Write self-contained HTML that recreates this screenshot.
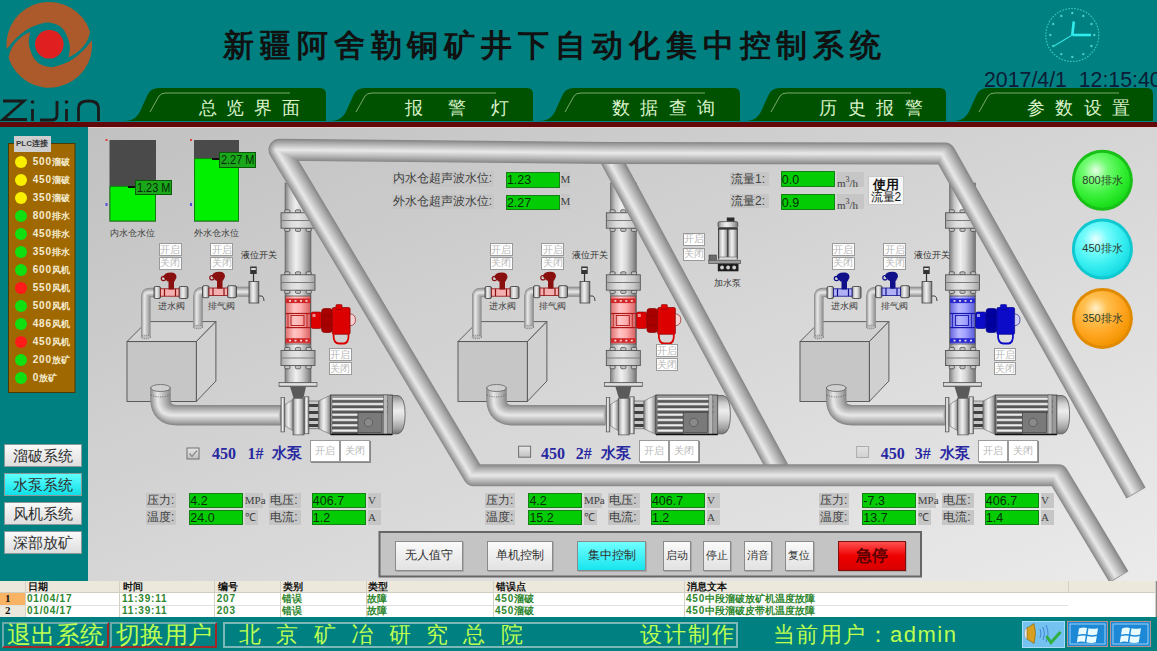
<!DOCTYPE html><html><head><meta charset='utf-8'><style>
*{margin:0;padding:0;box-sizing:border-box}
html,body{width:1157px;height:651px;overflow:hidden;background:#008080;font-family:"Liberation Sans",sans-serif}
.a{position:absolute}
.t{position:absolute;white-space:nowrap;line-height:1}
svg{position:absolute;left:0;top:0}
.lbl{position:absolute;background:#c6c6c6;color:#404040;font-size:12px;line-height:15px;white-space:nowrap;padding-left:1px}
.grn{position:absolute;background:#04cc04;border:1px solid #168016;color:#062e06;font-size:12.5px;line-height:14px;white-space:nowrap;padding-left:0;overflow:hidden}
.unit{position:absolute;background:#c6c6c6;color:#404040;font-size:11px;line-height:15px;font-family:"Liberation Serif",serif;white-space:nowrap}
.wb{position:absolute;background:#fff;border:1px solid #9a9a9a;color:#b8b8b8;font-size:10px;text-align:center;white-space:nowrap;overflow:hidden}
.pb{position:absolute;border:1px solid #8a8a8a;background:linear-gradient(#fafafa,#e2e2e2);color:#303030;font-size:12px;text-align:center;white-space:nowrap;box-shadow:1px 1px 0 #a8a8a8}
</style></head><body>
<div class='a' style='left:0;top:121.5px;width:1157px;height:5px;background:#620808'></div>
<div class='a' style='left:0;top:126.5px;width:1157px;height:454px;background:linear-gradient(157.6deg,#bfbfbf,#ebebeb)'></div><div class='a' style='left:0;top:126.5px;width:1157px;height:1px;background:#e4cccc'></div>
<div class='a' style='left:0;top:126.5px;width:88px;height:454px;background:#008080'></div>
<svg width='1157' height='126' viewBox='0 0 1157 126'><path d='M6.7,49.3 A42.8 42.8 0 0 1 90.0,31.6 C88.5,43 80,52.5 68.6,57.5 C68.8,55.2 70.5,48.8 69.5,44.0 C68.5,39.2 65.9,32.1 62.5,28.5 C59.1,24.9 53.5,23.0 49.0,22.5 C44.5,22.0 39.8,23.9 35.5,25.5 C31.2,27.1 27.2,29.4 23.5,32.0 C19.8,34.6 16.3,38.1 13.5,41.0 C10.7,43.9 7.9,47.9 6.7,49.3 Z' fill='#ac5a2c'/><path d='M91.9,40.3 A42.8 42.8 0 0 1 8.6,58.0 C10.1,46.6 18.6,37.1 30.0,32.1 C29.8,34.3 28.1,40.8 29.1,45.6 C30.1,50.4 32.7,57.5 36.1,61.1 C39.5,64.7 45.1,66.6 49.6,67.1 C54.1,67.6 58.8,65.7 63.1,64.1 C67.3,62.5 71.4,60.2 75.1,57.6 C78.8,55.0 82.3,51.5 85.1,48.6 C87.9,45.7 90.7,41.7 91.9,40.3 Z' fill='#ac5a2c'/><circle cx='49.3' cy='44.3' r='14.3' fill='#e02020'/><g stroke='#1a1a1a' stroke-width='2.8' fill='none' stroke-linecap='butt'><path d='M3,101 H24 L3,119.5 H27'/><path d='M32.5,109 V121'/><circle cx='32.5' cy='102' r='1.8' fill='#1a1a1a' stroke='none'/><path d='M57,101 V115 Q57,120 52,120 H40'/><path d='M66.5,109 V121'/><circle cx='66.5' cy='102' r='1.8' fill='#1a1a1a' stroke='none'/><path d='M78.5,121 V108 Q78.5,101 88.5,101 Q98.5,101 98.5,108 V121'/></g><path d='M124,121 C135,121 139,115 142,107 L148,94 Q151,88 159,88 H320 Q326,88 326,94 V121 Z' fill='#005200'/><path d='M150,112 L159,96 Q161,93 166,93 H290' stroke='#9abf8a' stroke-width='1' fill='none' opacity='0.8'/><path d='M330,121 C341,121 345,115 348,107 L354,94 Q357,88 365,88 H527 Q533,88 533,94 V121 Z' fill='#005200'/><path d='M356,112 L365,96 Q367,93 372,93 H496' stroke='#9abf8a' stroke-width='1' fill='none' opacity='0.8'/><path d='M539,121 C550,121 554,115 557,107 L563,94 Q566,88 574,88 H734 Q740,88 740,94 V121 Z' fill='#005200'/><path d='M565,112 L574,96 Q576,93 581,93 H705' stroke='#9abf8a' stroke-width='1' fill='none' opacity='0.8'/><path d='M745,121 C756,121 760,115 763,107 L769,94 Q772,88 780,88 H940 Q946,88 946,94 V121 Z' fill='#005200'/><path d='M771,112 L780,96 Q782,93 787,93 H911' stroke='#9abf8a' stroke-width='1' fill='none' opacity='0.8'/><path d='M953,121 C964,121 968,115 971,107 L977,94 Q980,88 988,88 H1147 Q1153,88 1153,94 V121 Z' fill='#005200'/><path d='M979,112 L988,96 Q990,93 995,93 H1119' stroke='#9abf8a' stroke-width='1' fill='none' opacity='0.8'/><circle cx='1072.3' cy='35' r='26.5' fill='none' stroke='#40d8d8' stroke-width='1.1' stroke-dasharray='1.6 1.4' opacity='0.85'/><circle cx='1072.3' cy='13.0' r='1.2' fill='#50dede' opacity='0.85'/><circle cx='1083.3' cy='15.9' r='1.2' fill='#50dede' opacity='0.85'/><circle cx='1091.4' cy='24.0' r='1.2' fill='#50dede' opacity='0.85'/><circle cx='1094.3' cy='35.0' r='1.2' fill='#50dede' opacity='0.85'/><circle cx='1091.4' cy='46.0' r='1.2' fill='#50dede' opacity='0.85'/><circle cx='1083.3' cy='54.1' r='1.2' fill='#50dede' opacity='0.85'/><circle cx='1072.3' cy='57.0' r='1.2' fill='#50dede' opacity='0.85'/><circle cx='1061.3' cy='54.1' r='1.2' fill='#50dede' opacity='0.85'/><circle cx='1053.2' cy='46.0' r='1.2' fill='#50dede' opacity='0.85'/><circle cx='1050.3' cy='35.0' r='1.2' fill='#50dede' opacity='0.85'/><circle cx='1053.2' cy='24.0' r='1.2' fill='#50dede' opacity='0.85'/><circle cx='1061.3' cy='15.9' r='1.2' fill='#50dede' opacity='0.85'/><line x1='1072.3' y1='35' x2='1073.8' y2='21.5' stroke='#30ecec' stroke-width='2.6'/><line x1='1072.3' y1='35' x2='1091' y2='35' stroke='#30ecec' stroke-width='2.6'/><line x1='1072.3' y1='35' x2='1054' y2='46' stroke='#30dede' stroke-width='1.2'/></svg>
<div class='t' style='left:223px;top:30px;font-family:"Liberation Serif",serif;font-weight:bold;font-size:31px;letter-spacing:5.9px;color:#111'>新疆阿舍勒铜矿井下自动化集中控制系统</div>
<div class='t' style='left:984px;top:70.4px;font-size:21.3px;color:#0c1c36'>2017/4/1&nbsp; 12:15:40</div>
<div class='t' style='left:198.5px;top:98.5px;font-size:18px;letter-spacing:9.9px;color:#dcf2cc'>总览界面</div>
<div class='t' style='left:404.5px;top:98.5px;font-size:18px;letter-spacing:25px;color:#dcf2cc'>报警灯</div>
<div class='t' style='left:612px;top:98.5px;font-size:18px;letter-spacing:10.4px;color:#dcf2cc'>数据查询</div>
<div class='t' style='left:819px;top:98.5px;font-size:18px;letter-spacing:10.7px;color:#dcf2cc'>历史报警</div>
<div class='t' style='left:1026.5px;top:98.5px;font-size:18px;letter-spacing:10.6px;color:#dcf2cc'>参数设置</div>
<svg width='1157' height='651' viewBox='0 0 1157 651'><defs>
<linearGradient id='gV' x1='0' x2='1' y1='0' y2='0'>
<stop offset='0' stop-color='#7c7c7c'/><stop offset='.18' stop-color='#c4c4c4'/><stop offset='.42' stop-color='#f0f0f0'/><stop offset='.62' stop-color='#d6d6d6'/><stop offset='.86' stop-color='#9c9c9c'/><stop offset='1' stop-color='#707070'/></linearGradient>
<linearGradient id='gH' x1='0' x2='0' y1='0' y2='1'>
<stop offset='0' stop-color='#8a8a8a'/><stop offset='.2' stop-color='#cdcdcd'/><stop offset='.4' stop-color='#ededed'/><stop offset='.62' stop-color='#d2d2d2'/><stop offset='.86' stop-color='#a0a0a0'/><stop offset='1' stop-color='#747474'/></linearGradient>
<linearGradient id='gP' x1='0' x2='1'><stop offset='0' stop-color='#e07070'/><stop offset='.35' stop-color='#ffc4c4'/><stop offset='.6' stop-color='#ffb0b0'/><stop offset='1' stop-color='#d86060'/></linearGradient>
<linearGradient id='gB' x1='0' x2='1'><stop offset='0' stop-color='#6464e0'/><stop offset='.35' stop-color='#b8b8ff'/><stop offset='.6' stop-color='#a4a4ff'/><stop offset='1' stop-color='#5a5ad8'/></linearGradient>
<linearGradient id='gF' x1='0' x2='1'><stop offset='0' stop-color='#a8a8a8'/><stop offset='.3' stop-color='#dcdcdc'/><stop offset='.5' stop-color='#e4e4e4'/><stop offset='.8' stop-color='#c8c8c8'/><stop offset='1' stop-color='#a0a0a0'/></linearGradient>
<linearGradient id='gTB' x1='0' x2='0' y1='0' y2='1'><stop offset='0' stop-color='#e8e8e8'/><stop offset='1' stop-color='#c0c0c0'/></linearGradient>
<radialGradient id='gG' cx='.38' cy='.32' r='.7'><stop offset='0' stop-color='#e4ffe4'/><stop offset='.3' stop-color='#74fc74'/><stop offset='.7' stop-color='#34ee34'/><stop offset='1' stop-color='#18dc18'/></radialGradient>
<radialGradient id='gC' cx='.38' cy='.32' r='.7'><stop offset='0' stop-color='#e8ffff'/><stop offset='.3' stop-color='#78fcfc'/><stop offset='.7' stop-color='#38eef0'/><stop offset='1' stop-color='#18dce4'/></radialGradient>
<radialGradient id='gO' cx='.38' cy='.32' r='.7'><stop offset='0' stop-color='#fff0c8'/><stop offset='.3' stop-color='#ffc050'/><stop offset='.7' stop-color='#ffa420'/><stop offset='1' stop-color='#f29400'/></radialGradient>
</defs><rect x='8.5' y='143.5' width='66.5' height='249' fill='#a06800' stroke='#4a3a08' stroke-width='1'/><circle cx='21' cy='162' r='6' fill='#f8f000'/><circle cx='21' cy='180' r='6' fill='#f8f000'/><circle cx='21' cy='198' r='6' fill='#f8f000'/><circle cx='21' cy='216' r='6' fill='#10e010'/><circle cx='21' cy='234' r='6' fill='#10e010'/><circle cx='21' cy='252' r='6' fill='#10e010'/><circle cx='21' cy='270' r='6' fill='#10e010'/><circle cx='21' cy='288' r='6' fill='#ff1a1a'/><circle cx='21' cy='306' r='6' fill='#10e010'/><circle cx='21' cy='324' r='6' fill='#10e010'/><circle cx='21' cy='342' r='6' fill='#ff1a1a'/><circle cx='21' cy='360' r='6' fill='#10e010'/><circle cx='21' cy='378' r='6' fill='#10e010'/><rect x='109.5' y='140' width='46.5' height='81.5' fill='#4a4a4a'/><rect x='110.0' y='186.3' width='45.5' height='34.69999999999999' fill='#00f000' stroke='#108010' stroke-width='1'/><rect x='194' y='140' width='45' height='81.5' fill='#4a4a4a'/><rect x='194.5' y='158.6' width='44' height='62.400000000000006' fill='#00f000' stroke='#108010' stroke-width='1'/><rect x='105.5' y='139' width='2' height='2' fill='#e04040'/><rect x='105.5' y='203' width='2' height='3' fill='#5050d0'/><rect x='190' y='139' width='2' height='2' fill='#e04040'/><rect x='190' y='203' width='2' height='3' fill='#5050d0'/><line x1='128' y1='187' x2='136' y2='187' stroke='#101010' stroke-width='2'/><line x1='212' y1='159' x2='220' y2='159' stroke='#101010' stroke-width='2'/><polygon points='127,341.6 147,321.6 215.9,321.6 196.3,341.6' fill='#d2d2d2' stroke='#505050' stroke-width='0.9'/><polygon points='196.3,341.6 215.9,321.6 215.9,381 196.3,401.5' fill='#d0d0d0' stroke='#505050' stroke-width='0.9'/><rect x='127' y='341.6' width='69.30000000000001' height='59.89999999999998' fill='#c6c6c6' stroke='#505050' stroke-width='0.9'/><path d='M145.8,338 V296 Q145.8,292.5 150,292.5 H156' stroke='rgb(136,136,136)' stroke-width='9.50' fill='none' stroke-linejoin='round' stroke-linecap='butt' /><path d='M145.8,338 V296 Q145.8,292.5 150,292.5 H156' stroke='rgb(146,146,146)' stroke-width='8.71' fill='none' stroke-linejoin='round' stroke-linecap='butt' transform='translate(-0.12,0)' /><path d='M145.8,338 V296 Q145.8,292.5 150,292.5 H156' stroke='rgb(156,156,156)' stroke-width='7.91' fill='none' stroke-linejoin='round' stroke-linecap='butt' transform='translate(-0.24,0)' /><path d='M145.8,338 V296 Q145.8,292.5 150,292.5 H156' stroke='rgb(165,165,165)' stroke-width='7.12' fill='none' stroke-linejoin='round' stroke-linecap='butt' transform='translate(-0.36,0)' /><path d='M145.8,338 V296 Q145.8,292.5 150,292.5 H156' stroke='rgb(173,173,173)' stroke-width='6.32' fill='none' stroke-linejoin='round' stroke-linecap='butt' transform='translate(-0.48,0)' /><path d='M145.8,338 V296 Q145.8,292.5 150,292.5 H156' stroke='rgb(182,182,182)' stroke-width='5.53' fill='none' stroke-linejoin='round' stroke-linecap='butt' transform='translate(-0.60,0)' /><path d='M145.8,338 V296 Q145.8,292.5 150,292.5 H156' stroke='rgb(190,190,190)' stroke-width='4.73' fill='none' stroke-linejoin='round' stroke-linecap='butt' transform='translate(-0.73,0)' /><path d='M145.8,338 V296 Q145.8,292.5 150,292.5 H156' stroke='rgb(198,198,198)' stroke-width='3.94' fill='none' stroke-linejoin='round' stroke-linecap='butt' transform='translate(-0.85,0)' /><path d='M145.8,338 V296 Q145.8,292.5 150,292.5 H156' stroke='rgb(206,206,206)' stroke-width='3.14' fill='none' stroke-linejoin='round' stroke-linecap='butt' transform='translate(-0.97,0)' /><path d='M145.8,338 V296 Q145.8,292.5 150,292.5 H156' stroke='rgb(214,214,214)' stroke-width='2.35' fill='none' stroke-linejoin='round' stroke-linecap='butt' transform='translate(-1.09,0)' /><path d='M145.8,338 V296 Q145.8,292.5 150,292.5 H156' stroke='rgb(222,222,222)' stroke-width='1.55' fill='none' stroke-linejoin='round' stroke-linecap='butt' transform='translate(-1.21,0)' /><path d='M145.8,338 V296 Q145.8,292.5 150,292.5 H156' stroke='rgb(230,230,230)' stroke-width='0.76' fill='none' stroke-linejoin='round' stroke-linecap='butt' transform='translate(-1.33,0)' /><path d='M198,328 V296 Q198,291.7 202,291.7 H206' stroke='rgb(136,136,136)' stroke-width='9.50' fill='none' stroke-linejoin='round' stroke-linecap='butt' /><path d='M198,328 V296 Q198,291.7 202,291.7 H206' stroke='rgb(146,146,146)' stroke-width='8.71' fill='none' stroke-linejoin='round' stroke-linecap='butt' transform='translate(-0.12,0)' /><path d='M198,328 V296 Q198,291.7 202,291.7 H206' stroke='rgb(156,156,156)' stroke-width='7.91' fill='none' stroke-linejoin='round' stroke-linecap='butt' transform='translate(-0.24,0)' /><path d='M198,328 V296 Q198,291.7 202,291.7 H206' stroke='rgb(165,165,165)' stroke-width='7.12' fill='none' stroke-linejoin='round' stroke-linecap='butt' transform='translate(-0.36,0)' /><path d='M198,328 V296 Q198,291.7 202,291.7 H206' stroke='rgb(173,173,173)' stroke-width='6.32' fill='none' stroke-linejoin='round' stroke-linecap='butt' transform='translate(-0.48,0)' /><path d='M198,328 V296 Q198,291.7 202,291.7 H206' stroke='rgb(182,182,182)' stroke-width='5.53' fill='none' stroke-linejoin='round' stroke-linecap='butt' transform='translate(-0.60,0)' /><path d='M198,328 V296 Q198,291.7 202,291.7 H206' stroke='rgb(190,190,190)' stroke-width='4.73' fill='none' stroke-linejoin='round' stroke-linecap='butt' transform='translate(-0.73,0)' /><path d='M198,328 V296 Q198,291.7 202,291.7 H206' stroke='rgb(198,198,198)' stroke-width='3.94' fill='none' stroke-linejoin='round' stroke-linecap='butt' transform='translate(-0.85,0)' /><path d='M198,328 V296 Q198,291.7 202,291.7 H206' stroke='rgb(206,206,206)' stroke-width='3.14' fill='none' stroke-linejoin='round' stroke-linecap='butt' transform='translate(-0.97,0)' /><path d='M198,328 V296 Q198,291.7 202,291.7 H206' stroke='rgb(214,214,214)' stroke-width='2.35' fill='none' stroke-linejoin='round' stroke-linecap='butt' transform='translate(-1.09,0)' /><path d='M198,328 V296 Q198,291.7 202,291.7 H206' stroke='rgb(222,222,222)' stroke-width='1.55' fill='none' stroke-linejoin='round' stroke-linecap='butt' transform='translate(-1.21,0)' /><path d='M198,328 V296 Q198,291.7 202,291.7 H206' stroke='rgb(230,230,230)' stroke-width='0.76' fill='none' stroke-linejoin='round' stroke-linecap='butt' transform='translate(-1.33,0)' /><path d='M234,291.7 H251' stroke='rgb(136,136,136)' stroke-width='10.00' fill='none' stroke-linejoin='round' stroke-linecap='butt' /><path d='M234,291.7 H251' stroke='rgb(146,146,146)' stroke-width='9.16' fill='none' stroke-linejoin='round' stroke-linecap='butt' transform='translate(-0.13,0)' /><path d='M234,291.7 H251' stroke='rgb(156,156,156)' stroke-width='8.33' fill='none' stroke-linejoin='round' stroke-linecap='butt' transform='translate(-0.25,0)' /><path d='M234,291.7 H251' stroke='rgb(165,165,165)' stroke-width='7.49' fill='none' stroke-linejoin='round' stroke-linecap='butt' transform='translate(-0.38,0)' /><path d='M234,291.7 H251' stroke='rgb(173,173,173)' stroke-width='6.65' fill='none' stroke-linejoin='round' stroke-linecap='butt' transform='translate(-0.51,0)' /><path d='M234,291.7 H251' stroke='rgb(182,182,182)' stroke-width='5.82' fill='none' stroke-linejoin='round' stroke-linecap='butt' transform='translate(-0.64,0)' /><path d='M234,291.7 H251' stroke='rgb(190,190,190)' stroke-width='4.98' fill='none' stroke-linejoin='round' stroke-linecap='butt' transform='translate(-0.76,0)' /><path d='M234,291.7 H251' stroke='rgb(198,198,198)' stroke-width='4.15' fill='none' stroke-linejoin='round' stroke-linecap='butt' transform='translate(-0.89,0)' /><path d='M234,291.7 H251' stroke='rgb(206,206,206)' stroke-width='3.31' fill='none' stroke-linejoin='round' stroke-linecap='butt' transform='translate(-1.02,0)' /><path d='M234,291.7 H251' stroke='rgb(214,214,214)' stroke-width='2.47' fill='none' stroke-linejoin='round' stroke-linecap='butt' transform='translate(-1.15,0)' /><path d='M234,291.7 H251' stroke='rgb(222,222,222)' stroke-width='1.64' fill='none' stroke-linejoin='round' stroke-linecap='butt' transform='translate(-1.27,0)' /><path d='M234,291.7 H251' stroke='rgb(230,230,230)' stroke-width='0.80' fill='none' stroke-linejoin='round' stroke-linecap='butt' transform='translate(-1.40,0)' /><ellipse cx='145.8' cy='337' rx='4.7' ry='1.8' fill='#bbb' stroke='#555' stroke-width='0.6' stroke-dasharray='1 1'/><ellipse cx='198' cy='327' rx='4.7' ry='1.8' fill='#bbb' stroke='#555' stroke-width='0.6' stroke-dasharray='1 1'/><rect x='154.0' y='286.5' width='6.5' height='12' rx='1.5' fill='url(#gV)' stroke='#333' stroke-width='0.8'/><rect x='179.0' y='286.5' width='9' height='12' rx='1.5' fill='url(#gV)' stroke='#333' stroke-width='0.8'/><rect x='160.5' y='288.8' width='18.5' height='7.4' fill='#f4b0b0' stroke='#8a1010' stroke-width='0.8'/><line x1='164.5' y1='288.8' x2='164.5' y2='296.2' stroke='#8a1010' stroke-width='1.2'/><line x1='175.5' y1='288.8' x2='175.5' y2='296.2' stroke='#8a1010' stroke-width='1.2'/><rect x='168.5' y='280.5' width='5.5' height='9' fill='#8a1010'/><path d='M163.5,277.5 Q163.5,272.5 171.0,272.5 Q176.5,272.5 176.5,277.5 L174.5,281.5 H167.5 Z' fill='#8a1010'/><circle cx='163.5' cy='278.5' r='2.2' fill='none' stroke='#8a1010' stroke-width='1.2'/><rect x='202.5' y='285.7' width='6.5' height='12' rx='1.5' fill='url(#gV)' stroke='#333' stroke-width='0.8'/><rect x='227.5' y='285.7' width='9' height='12' rx='1.5' fill='url(#gV)' stroke='#333' stroke-width='0.8'/><rect x='209' y='288.0' width='18.5' height='7.4' fill='#f4b0b0' stroke='#8a1010' stroke-width='0.8'/><line x1='213' y1='288.0' x2='213' y2='295.4' stroke='#8a1010' stroke-width='1.2'/><line x1='224' y1='288.0' x2='224' y2='295.4' stroke='#8a1010' stroke-width='1.2'/><rect x='217' y='279.7' width='5.5' height='9' fill='#8a1010'/><path d='M212,276.7 Q212,271.7 219.5,271.7 Q225,271.7 225,276.7 L223,280.7 H216 Z' fill='#8a1010'/><circle cx='212' cy='277.7' r='2.2' fill='none' stroke='#8a1010' stroke-width='1.2'/><rect x='249' y='281.5' width='9.8' height='21.5' fill='url(#gV)' stroke='#444' stroke-width='0.8'/><path d='M258.8,296 H262 Q264,297 264,301' stroke='#444' stroke-width='1' fill='none'/><line x1='253.5' y1='274' x2='253.5' y2='281.5' stroke='#333' stroke-width='1.2'/><rect x='250.2' y='266.5' width='6.5' height='7.5' fill='#333'/><rect x='251.2' y='268' width='4.5' height='2' fill='#ddd'/><path d='M160.5,387 V399 Q160.5,415.2 177,415.2 H281' stroke='rgb(136,136,136)' stroke-width='20.50' fill='none' stroke-linejoin='round' stroke-linecap='butt' /><path d='M160.5,387 V399 Q160.5,415.2 177,415.2 H281' stroke='rgb(146,146,146)' stroke-width='18.79' fill='none' stroke-linejoin='round' stroke-linecap='butt' transform='translate(-0.26,0)' /><path d='M160.5,387 V399 Q160.5,415.2 177,415.2 H281' stroke='rgb(156,156,156)' stroke-width='17.07' fill='none' stroke-linejoin='round' stroke-linecap='butt' transform='translate(-0.52,0)' /><path d='M160.5,387 V399 Q160.5,415.2 177,415.2 H281' stroke='rgb(165,165,165)' stroke-width='15.36' fill='none' stroke-linejoin='round' stroke-linecap='butt' transform='translate(-0.78,0)' /><path d='M160.5,387 V399 Q160.5,415.2 177,415.2 H281' stroke='rgb(173,173,173)' stroke-width='13.64' fill='none' stroke-linejoin='round' stroke-linecap='butt' transform='translate(-1.04,0)' /><path d='M160.5,387 V399 Q160.5,415.2 177,415.2 H281' stroke='rgb(182,182,182)' stroke-width='11.93' fill='none' stroke-linejoin='round' stroke-linecap='butt' transform='translate(-1.30,0)' /><path d='M160.5,387 V399 Q160.5,415.2 177,415.2 H281' stroke='rgb(190,190,190)' stroke-width='10.21' fill='none' stroke-linejoin='round' stroke-linecap='butt' transform='translate(-1.57,0)' /><path d='M160.5,387 V399 Q160.5,415.2 177,415.2 H281' stroke='rgb(198,198,198)' stroke-width='8.50' fill='none' stroke-linejoin='round' stroke-linecap='butt' transform='translate(-1.83,0)' /><path d='M160.5,387 V399 Q160.5,415.2 177,415.2 H281' stroke='rgb(206,206,206)' stroke-width='6.78' fill='none' stroke-linejoin='round' stroke-linecap='butt' transform='translate(-2.09,0)' /><path d='M160.5,387 V399 Q160.5,415.2 177,415.2 H281' stroke='rgb(214,214,214)' stroke-width='5.07' fill='none' stroke-linejoin='round' stroke-linecap='butt' transform='translate(-2.35,0)' /><path d='M160.5,387 V399 Q160.5,415.2 177,415.2 H281' stroke='rgb(222,222,222)' stroke-width='3.35' fill='none' stroke-linejoin='round' stroke-linecap='butt' transform='translate(-2.61,0)' /><path d='M160.5,387 V399 Q160.5,415.2 177,415.2 H281' stroke='rgb(230,230,230)' stroke-width='1.64' fill='none' stroke-linejoin='round' stroke-linecap='butt' transform='translate(-2.87,0)' /><ellipse cx='160.5' cy='388' rx='9.8' ry='3.5' fill='#d0d0d0' stroke='#555' stroke-width='0.7'/><path d='M150.7,395 Q160.5,399 170.3,395' stroke='#555' stroke-width='0.7' stroke-dasharray='1.2 1.2' fill='none'/><polygon points='458,341.6 478,321.6 546.9,321.6 527.3,341.6' fill='#d2d2d2' stroke='#505050' stroke-width='0.9'/><polygon points='527.3,341.6 546.9,321.6 546.9,381 527.3,401.5' fill='#d0d0d0' stroke='#505050' stroke-width='0.9'/><rect x='458' y='341.6' width='69.29999999999995' height='59.89999999999998' fill='#c6c6c6' stroke='#505050' stroke-width='0.9'/><path d='M476.8,338 V296 Q476.8,292.5 481,292.5 H487' stroke='rgb(136,136,136)' stroke-width='9.50' fill='none' stroke-linejoin='round' stroke-linecap='butt' /><path d='M476.8,338 V296 Q476.8,292.5 481,292.5 H487' stroke='rgb(146,146,146)' stroke-width='8.71' fill='none' stroke-linejoin='round' stroke-linecap='butt' transform='translate(-0.12,0)' /><path d='M476.8,338 V296 Q476.8,292.5 481,292.5 H487' stroke='rgb(156,156,156)' stroke-width='7.91' fill='none' stroke-linejoin='round' stroke-linecap='butt' transform='translate(-0.24,0)' /><path d='M476.8,338 V296 Q476.8,292.5 481,292.5 H487' stroke='rgb(165,165,165)' stroke-width='7.12' fill='none' stroke-linejoin='round' stroke-linecap='butt' transform='translate(-0.36,0)' /><path d='M476.8,338 V296 Q476.8,292.5 481,292.5 H487' stroke='rgb(173,173,173)' stroke-width='6.32' fill='none' stroke-linejoin='round' stroke-linecap='butt' transform='translate(-0.48,0)' /><path d='M476.8,338 V296 Q476.8,292.5 481,292.5 H487' stroke='rgb(182,182,182)' stroke-width='5.53' fill='none' stroke-linejoin='round' stroke-linecap='butt' transform='translate(-0.60,0)' /><path d='M476.8,338 V296 Q476.8,292.5 481,292.5 H487' stroke='rgb(190,190,190)' stroke-width='4.73' fill='none' stroke-linejoin='round' stroke-linecap='butt' transform='translate(-0.73,0)' /><path d='M476.8,338 V296 Q476.8,292.5 481,292.5 H487' stroke='rgb(198,198,198)' stroke-width='3.94' fill='none' stroke-linejoin='round' stroke-linecap='butt' transform='translate(-0.85,0)' /><path d='M476.8,338 V296 Q476.8,292.5 481,292.5 H487' stroke='rgb(206,206,206)' stroke-width='3.14' fill='none' stroke-linejoin='round' stroke-linecap='butt' transform='translate(-0.97,0)' /><path d='M476.8,338 V296 Q476.8,292.5 481,292.5 H487' stroke='rgb(214,214,214)' stroke-width='2.35' fill='none' stroke-linejoin='round' stroke-linecap='butt' transform='translate(-1.09,0)' /><path d='M476.8,338 V296 Q476.8,292.5 481,292.5 H487' stroke='rgb(222,222,222)' stroke-width='1.55' fill='none' stroke-linejoin='round' stroke-linecap='butt' transform='translate(-1.21,0)' /><path d='M476.8,338 V296 Q476.8,292.5 481,292.5 H487' stroke='rgb(230,230,230)' stroke-width='0.76' fill='none' stroke-linejoin='round' stroke-linecap='butt' transform='translate(-1.33,0)' /><path d='M529,328 V296 Q529,291.7 533,291.7 H537' stroke='rgb(136,136,136)' stroke-width='9.50' fill='none' stroke-linejoin='round' stroke-linecap='butt' /><path d='M529,328 V296 Q529,291.7 533,291.7 H537' stroke='rgb(146,146,146)' stroke-width='8.71' fill='none' stroke-linejoin='round' stroke-linecap='butt' transform='translate(-0.12,0)' /><path d='M529,328 V296 Q529,291.7 533,291.7 H537' stroke='rgb(156,156,156)' stroke-width='7.91' fill='none' stroke-linejoin='round' stroke-linecap='butt' transform='translate(-0.24,0)' /><path d='M529,328 V296 Q529,291.7 533,291.7 H537' stroke='rgb(165,165,165)' stroke-width='7.12' fill='none' stroke-linejoin='round' stroke-linecap='butt' transform='translate(-0.36,0)' /><path d='M529,328 V296 Q529,291.7 533,291.7 H537' stroke='rgb(173,173,173)' stroke-width='6.32' fill='none' stroke-linejoin='round' stroke-linecap='butt' transform='translate(-0.48,0)' /><path d='M529,328 V296 Q529,291.7 533,291.7 H537' stroke='rgb(182,182,182)' stroke-width='5.53' fill='none' stroke-linejoin='round' stroke-linecap='butt' transform='translate(-0.60,0)' /><path d='M529,328 V296 Q529,291.7 533,291.7 H537' stroke='rgb(190,190,190)' stroke-width='4.73' fill='none' stroke-linejoin='round' stroke-linecap='butt' transform='translate(-0.73,0)' /><path d='M529,328 V296 Q529,291.7 533,291.7 H537' stroke='rgb(198,198,198)' stroke-width='3.94' fill='none' stroke-linejoin='round' stroke-linecap='butt' transform='translate(-0.85,0)' /><path d='M529,328 V296 Q529,291.7 533,291.7 H537' stroke='rgb(206,206,206)' stroke-width='3.14' fill='none' stroke-linejoin='round' stroke-linecap='butt' transform='translate(-0.97,0)' /><path d='M529,328 V296 Q529,291.7 533,291.7 H537' stroke='rgb(214,214,214)' stroke-width='2.35' fill='none' stroke-linejoin='round' stroke-linecap='butt' transform='translate(-1.09,0)' /><path d='M529,328 V296 Q529,291.7 533,291.7 H537' stroke='rgb(222,222,222)' stroke-width='1.55' fill='none' stroke-linejoin='round' stroke-linecap='butt' transform='translate(-1.21,0)' /><path d='M529,328 V296 Q529,291.7 533,291.7 H537' stroke='rgb(230,230,230)' stroke-width='0.76' fill='none' stroke-linejoin='round' stroke-linecap='butt' transform='translate(-1.33,0)' /><path d='M565,291.7 H582' stroke='rgb(136,136,136)' stroke-width='10.00' fill='none' stroke-linejoin='round' stroke-linecap='butt' /><path d='M565,291.7 H582' stroke='rgb(146,146,146)' stroke-width='9.16' fill='none' stroke-linejoin='round' stroke-linecap='butt' transform='translate(-0.13,0)' /><path d='M565,291.7 H582' stroke='rgb(156,156,156)' stroke-width='8.33' fill='none' stroke-linejoin='round' stroke-linecap='butt' transform='translate(-0.25,0)' /><path d='M565,291.7 H582' stroke='rgb(165,165,165)' stroke-width='7.49' fill='none' stroke-linejoin='round' stroke-linecap='butt' transform='translate(-0.38,0)' /><path d='M565,291.7 H582' stroke='rgb(173,173,173)' stroke-width='6.65' fill='none' stroke-linejoin='round' stroke-linecap='butt' transform='translate(-0.51,0)' /><path d='M565,291.7 H582' stroke='rgb(182,182,182)' stroke-width='5.82' fill='none' stroke-linejoin='round' stroke-linecap='butt' transform='translate(-0.64,0)' /><path d='M565,291.7 H582' stroke='rgb(190,190,190)' stroke-width='4.98' fill='none' stroke-linejoin='round' stroke-linecap='butt' transform='translate(-0.76,0)' /><path d='M565,291.7 H582' stroke='rgb(198,198,198)' stroke-width='4.15' fill='none' stroke-linejoin='round' stroke-linecap='butt' transform='translate(-0.89,0)' /><path d='M565,291.7 H582' stroke='rgb(206,206,206)' stroke-width='3.31' fill='none' stroke-linejoin='round' stroke-linecap='butt' transform='translate(-1.02,0)' /><path d='M565,291.7 H582' stroke='rgb(214,214,214)' stroke-width='2.47' fill='none' stroke-linejoin='round' stroke-linecap='butt' transform='translate(-1.15,0)' /><path d='M565,291.7 H582' stroke='rgb(222,222,222)' stroke-width='1.64' fill='none' stroke-linejoin='round' stroke-linecap='butt' transform='translate(-1.27,0)' /><path d='M565,291.7 H582' stroke='rgb(230,230,230)' stroke-width='0.80' fill='none' stroke-linejoin='round' stroke-linecap='butt' transform='translate(-1.40,0)' /><ellipse cx='476.8' cy='337' rx='4.7' ry='1.8' fill='#bbb' stroke='#555' stroke-width='0.6' stroke-dasharray='1 1'/><ellipse cx='529' cy='327' rx='4.7' ry='1.8' fill='#bbb' stroke='#555' stroke-width='0.6' stroke-dasharray='1 1'/><rect x='485.0' y='286.5' width='6.5' height='12' rx='1.5' fill='url(#gV)' stroke='#333' stroke-width='0.8'/><rect x='510.0' y='286.5' width='9' height='12' rx='1.5' fill='url(#gV)' stroke='#333' stroke-width='0.8'/><rect x='491.5' y='288.8' width='18.5' height='7.4' fill='#f4b0b0' stroke='#8a1010' stroke-width='0.8'/><line x1='495.5' y1='288.8' x2='495.5' y2='296.2' stroke='#8a1010' stroke-width='1.2'/><line x1='506.5' y1='288.8' x2='506.5' y2='296.2' stroke='#8a1010' stroke-width='1.2'/><rect x='499.5' y='280.5' width='5.5' height='9' fill='#8a1010'/><path d='M494.5,277.5 Q494.5,272.5 502.0,272.5 Q507.5,272.5 507.5,277.5 L505.5,281.5 H498.5 Z' fill='#8a1010'/><circle cx='494.5' cy='278.5' r='2.2' fill='none' stroke='#8a1010' stroke-width='1.2'/><rect x='533.5' y='285.7' width='6.5' height='12' rx='1.5' fill='url(#gV)' stroke='#333' stroke-width='0.8'/><rect x='558.5' y='285.7' width='9' height='12' rx='1.5' fill='url(#gV)' stroke='#333' stroke-width='0.8'/><rect x='540' y='288.0' width='18.5' height='7.4' fill='#f4b0b0' stroke='#8a1010' stroke-width='0.8'/><line x1='544' y1='288.0' x2='544' y2='295.4' stroke='#8a1010' stroke-width='1.2'/><line x1='555' y1='288.0' x2='555' y2='295.4' stroke='#8a1010' stroke-width='1.2'/><rect x='548' y='279.7' width='5.5' height='9' fill='#8a1010'/><path d='M543,276.7 Q543,271.7 550.5,271.7 Q556,271.7 556,276.7 L554,280.7 H547 Z' fill='#8a1010'/><circle cx='543' cy='277.7' r='2.2' fill='none' stroke='#8a1010' stroke-width='1.2'/><rect x='580' y='281.5' width='9.8' height='21.5' fill='url(#gV)' stroke='#444' stroke-width='0.8'/><path d='M589.8,296 H593 Q595,297 595,301' stroke='#444' stroke-width='1' fill='none'/><line x1='584.5' y1='274' x2='584.5' y2='281.5' stroke='#333' stroke-width='1.2'/><rect x='581.2' y='266.5' width='6.5' height='7.5' fill='#333'/><rect x='582.2' y='268' width='4.5' height='2' fill='#ddd'/><path d='M496.5,387 V399 Q496.5,415.2 513,415.2 H605.7' stroke='rgb(136,136,136)' stroke-width='20.50' fill='none' stroke-linejoin='round' stroke-linecap='butt' /><path d='M496.5,387 V399 Q496.5,415.2 513,415.2 H605.7' stroke='rgb(146,146,146)' stroke-width='18.79' fill='none' stroke-linejoin='round' stroke-linecap='butt' transform='translate(-0.26,0)' /><path d='M496.5,387 V399 Q496.5,415.2 513,415.2 H605.7' stroke='rgb(156,156,156)' stroke-width='17.07' fill='none' stroke-linejoin='round' stroke-linecap='butt' transform='translate(-0.52,0)' /><path d='M496.5,387 V399 Q496.5,415.2 513,415.2 H605.7' stroke='rgb(165,165,165)' stroke-width='15.36' fill='none' stroke-linejoin='round' stroke-linecap='butt' transform='translate(-0.78,0)' /><path d='M496.5,387 V399 Q496.5,415.2 513,415.2 H605.7' stroke='rgb(173,173,173)' stroke-width='13.64' fill='none' stroke-linejoin='round' stroke-linecap='butt' transform='translate(-1.04,0)' /><path d='M496.5,387 V399 Q496.5,415.2 513,415.2 H605.7' stroke='rgb(182,182,182)' stroke-width='11.93' fill='none' stroke-linejoin='round' stroke-linecap='butt' transform='translate(-1.30,0)' /><path d='M496.5,387 V399 Q496.5,415.2 513,415.2 H605.7' stroke='rgb(190,190,190)' stroke-width='10.21' fill='none' stroke-linejoin='round' stroke-linecap='butt' transform='translate(-1.57,0)' /><path d='M496.5,387 V399 Q496.5,415.2 513,415.2 H605.7' stroke='rgb(198,198,198)' stroke-width='8.50' fill='none' stroke-linejoin='round' stroke-linecap='butt' transform='translate(-1.83,0)' /><path d='M496.5,387 V399 Q496.5,415.2 513,415.2 H605.7' stroke='rgb(206,206,206)' stroke-width='6.78' fill='none' stroke-linejoin='round' stroke-linecap='butt' transform='translate(-2.09,0)' /><path d='M496.5,387 V399 Q496.5,415.2 513,415.2 H605.7' stroke='rgb(214,214,214)' stroke-width='5.07' fill='none' stroke-linejoin='round' stroke-linecap='butt' transform='translate(-2.35,0)' /><path d='M496.5,387 V399 Q496.5,415.2 513,415.2 H605.7' stroke='rgb(222,222,222)' stroke-width='3.35' fill='none' stroke-linejoin='round' stroke-linecap='butt' transform='translate(-2.61,0)' /><path d='M496.5,387 V399 Q496.5,415.2 513,415.2 H605.7' stroke='rgb(230,230,230)' stroke-width='1.64' fill='none' stroke-linejoin='round' stroke-linecap='butt' transform='translate(-2.87,0)' /><ellipse cx='496.5' cy='388' rx='9.8' ry='3.5' fill='#d0d0d0' stroke='#555' stroke-width='0.7'/><path d='M486.7,395 Q496.5,399 506.3,395' stroke='#555' stroke-width='0.7' stroke-dasharray='1.2 1.2' fill='none'/><polygon points='800,341.6 820,321.6 888.9,321.6 869.3,341.6' fill='#d2d2d2' stroke='#505050' stroke-width='0.9'/><polygon points='869.3,341.6 888.9,321.6 888.9,381 869.3,401.5' fill='#d0d0d0' stroke='#505050' stroke-width='0.9'/><rect x='800' y='341.6' width='69.29999999999995' height='59.89999999999998' fill='#c6c6c6' stroke='#505050' stroke-width='0.9'/><path d='M818.8,338 V296 Q818.8,292.5 823,292.5 H829' stroke='rgb(136,136,136)' stroke-width='9.50' fill='none' stroke-linejoin='round' stroke-linecap='butt' /><path d='M818.8,338 V296 Q818.8,292.5 823,292.5 H829' stroke='rgb(146,146,146)' stroke-width='8.71' fill='none' stroke-linejoin='round' stroke-linecap='butt' transform='translate(-0.12,0)' /><path d='M818.8,338 V296 Q818.8,292.5 823,292.5 H829' stroke='rgb(156,156,156)' stroke-width='7.91' fill='none' stroke-linejoin='round' stroke-linecap='butt' transform='translate(-0.24,0)' /><path d='M818.8,338 V296 Q818.8,292.5 823,292.5 H829' stroke='rgb(165,165,165)' stroke-width='7.12' fill='none' stroke-linejoin='round' stroke-linecap='butt' transform='translate(-0.36,0)' /><path d='M818.8,338 V296 Q818.8,292.5 823,292.5 H829' stroke='rgb(173,173,173)' stroke-width='6.32' fill='none' stroke-linejoin='round' stroke-linecap='butt' transform='translate(-0.48,0)' /><path d='M818.8,338 V296 Q818.8,292.5 823,292.5 H829' stroke='rgb(182,182,182)' stroke-width='5.53' fill='none' stroke-linejoin='round' stroke-linecap='butt' transform='translate(-0.60,0)' /><path d='M818.8,338 V296 Q818.8,292.5 823,292.5 H829' stroke='rgb(190,190,190)' stroke-width='4.73' fill='none' stroke-linejoin='round' stroke-linecap='butt' transform='translate(-0.73,0)' /><path d='M818.8,338 V296 Q818.8,292.5 823,292.5 H829' stroke='rgb(198,198,198)' stroke-width='3.94' fill='none' stroke-linejoin='round' stroke-linecap='butt' transform='translate(-0.85,0)' /><path d='M818.8,338 V296 Q818.8,292.5 823,292.5 H829' stroke='rgb(206,206,206)' stroke-width='3.14' fill='none' stroke-linejoin='round' stroke-linecap='butt' transform='translate(-0.97,0)' /><path d='M818.8,338 V296 Q818.8,292.5 823,292.5 H829' stroke='rgb(214,214,214)' stroke-width='2.35' fill='none' stroke-linejoin='round' stroke-linecap='butt' transform='translate(-1.09,0)' /><path d='M818.8,338 V296 Q818.8,292.5 823,292.5 H829' stroke='rgb(222,222,222)' stroke-width='1.55' fill='none' stroke-linejoin='round' stroke-linecap='butt' transform='translate(-1.21,0)' /><path d='M818.8,338 V296 Q818.8,292.5 823,292.5 H829' stroke='rgb(230,230,230)' stroke-width='0.76' fill='none' stroke-linejoin='round' stroke-linecap='butt' transform='translate(-1.33,0)' /><path d='M871,328 V296 Q871,291.7 875,291.7 H879' stroke='rgb(136,136,136)' stroke-width='9.50' fill='none' stroke-linejoin='round' stroke-linecap='butt' /><path d='M871,328 V296 Q871,291.7 875,291.7 H879' stroke='rgb(146,146,146)' stroke-width='8.71' fill='none' stroke-linejoin='round' stroke-linecap='butt' transform='translate(-0.12,0)' /><path d='M871,328 V296 Q871,291.7 875,291.7 H879' stroke='rgb(156,156,156)' stroke-width='7.91' fill='none' stroke-linejoin='round' stroke-linecap='butt' transform='translate(-0.24,0)' /><path d='M871,328 V296 Q871,291.7 875,291.7 H879' stroke='rgb(165,165,165)' stroke-width='7.12' fill='none' stroke-linejoin='round' stroke-linecap='butt' transform='translate(-0.36,0)' /><path d='M871,328 V296 Q871,291.7 875,291.7 H879' stroke='rgb(173,173,173)' stroke-width='6.32' fill='none' stroke-linejoin='round' stroke-linecap='butt' transform='translate(-0.48,0)' /><path d='M871,328 V296 Q871,291.7 875,291.7 H879' stroke='rgb(182,182,182)' stroke-width='5.53' fill='none' stroke-linejoin='round' stroke-linecap='butt' transform='translate(-0.60,0)' /><path d='M871,328 V296 Q871,291.7 875,291.7 H879' stroke='rgb(190,190,190)' stroke-width='4.73' fill='none' stroke-linejoin='round' stroke-linecap='butt' transform='translate(-0.73,0)' /><path d='M871,328 V296 Q871,291.7 875,291.7 H879' stroke='rgb(198,198,198)' stroke-width='3.94' fill='none' stroke-linejoin='round' stroke-linecap='butt' transform='translate(-0.85,0)' /><path d='M871,328 V296 Q871,291.7 875,291.7 H879' stroke='rgb(206,206,206)' stroke-width='3.14' fill='none' stroke-linejoin='round' stroke-linecap='butt' transform='translate(-0.97,0)' /><path d='M871,328 V296 Q871,291.7 875,291.7 H879' stroke='rgb(214,214,214)' stroke-width='2.35' fill='none' stroke-linejoin='round' stroke-linecap='butt' transform='translate(-1.09,0)' /><path d='M871,328 V296 Q871,291.7 875,291.7 H879' stroke='rgb(222,222,222)' stroke-width='1.55' fill='none' stroke-linejoin='round' stroke-linecap='butt' transform='translate(-1.21,0)' /><path d='M871,328 V296 Q871,291.7 875,291.7 H879' stroke='rgb(230,230,230)' stroke-width='0.76' fill='none' stroke-linejoin='round' stroke-linecap='butt' transform='translate(-1.33,0)' /><path d='M907,291.7 H924' stroke='rgb(136,136,136)' stroke-width='10.00' fill='none' stroke-linejoin='round' stroke-linecap='butt' /><path d='M907,291.7 H924' stroke='rgb(146,146,146)' stroke-width='9.16' fill='none' stroke-linejoin='round' stroke-linecap='butt' transform='translate(-0.13,0)' /><path d='M907,291.7 H924' stroke='rgb(156,156,156)' stroke-width='8.33' fill='none' stroke-linejoin='round' stroke-linecap='butt' transform='translate(-0.25,0)' /><path d='M907,291.7 H924' stroke='rgb(165,165,165)' stroke-width='7.49' fill='none' stroke-linejoin='round' stroke-linecap='butt' transform='translate(-0.38,0)' /><path d='M907,291.7 H924' stroke='rgb(173,173,173)' stroke-width='6.65' fill='none' stroke-linejoin='round' stroke-linecap='butt' transform='translate(-0.51,0)' /><path d='M907,291.7 H924' stroke='rgb(182,182,182)' stroke-width='5.82' fill='none' stroke-linejoin='round' stroke-linecap='butt' transform='translate(-0.64,0)' /><path d='M907,291.7 H924' stroke='rgb(190,190,190)' stroke-width='4.98' fill='none' stroke-linejoin='round' stroke-linecap='butt' transform='translate(-0.76,0)' /><path d='M907,291.7 H924' stroke='rgb(198,198,198)' stroke-width='4.15' fill='none' stroke-linejoin='round' stroke-linecap='butt' transform='translate(-0.89,0)' /><path d='M907,291.7 H924' stroke='rgb(206,206,206)' stroke-width='3.31' fill='none' stroke-linejoin='round' stroke-linecap='butt' transform='translate(-1.02,0)' /><path d='M907,291.7 H924' stroke='rgb(214,214,214)' stroke-width='2.47' fill='none' stroke-linejoin='round' stroke-linecap='butt' transform='translate(-1.15,0)' /><path d='M907,291.7 H924' stroke='rgb(222,222,222)' stroke-width='1.64' fill='none' stroke-linejoin='round' stroke-linecap='butt' transform='translate(-1.27,0)' /><path d='M907,291.7 H924' stroke='rgb(230,230,230)' stroke-width='0.80' fill='none' stroke-linejoin='round' stroke-linecap='butt' transform='translate(-1.40,0)' /><ellipse cx='818.8' cy='337' rx='4.7' ry='1.8' fill='#bbb' stroke='#555' stroke-width='0.6' stroke-dasharray='1 1'/><ellipse cx='871' cy='327' rx='4.7' ry='1.8' fill='#bbb' stroke='#555' stroke-width='0.6' stroke-dasharray='1 1'/><rect x='827.0' y='286.5' width='6.5' height='12' rx='1.5' fill='url(#gV)' stroke='#333' stroke-width='0.8'/><rect x='852.0' y='286.5' width='9' height='12' rx='1.5' fill='url(#gV)' stroke='#333' stroke-width='0.8'/><rect x='833.5' y='288.8' width='18.5' height='7.4' fill='#b0b0f4' stroke='#10108a' stroke-width='0.8'/><line x1='837.5' y1='288.8' x2='837.5' y2='296.2' stroke='#10108a' stroke-width='1.2'/><line x1='848.5' y1='288.8' x2='848.5' y2='296.2' stroke='#10108a' stroke-width='1.2'/><rect x='841.5' y='280.5' width='5.5' height='9' fill='#10108a'/><path d='M836.5,277.5 Q836.5,272.5 844.0,272.5 Q849.5,272.5 849.5,277.5 L847.5,281.5 H840.5 Z' fill='#10108a'/><circle cx='836.5' cy='278.5' r='2.2' fill='none' stroke='#10108a' stroke-width='1.2'/><rect x='875.5' y='285.7' width='6.5' height='12' rx='1.5' fill='url(#gV)' stroke='#333' stroke-width='0.8'/><rect x='900.5' y='285.7' width='9' height='12' rx='1.5' fill='url(#gV)' stroke='#333' stroke-width='0.8'/><rect x='882' y='288.0' width='18.5' height='7.4' fill='#b0b0f4' stroke='#10108a' stroke-width='0.8'/><line x1='886' y1='288.0' x2='886' y2='295.4' stroke='#10108a' stroke-width='1.2'/><line x1='897' y1='288.0' x2='897' y2='295.4' stroke='#10108a' stroke-width='1.2'/><rect x='890' y='279.7' width='5.5' height='9' fill='#10108a'/><path d='M885,276.7 Q885,271.7 892.5,271.7 Q898,271.7 898,276.7 L896,280.7 H889 Z' fill='#10108a'/><circle cx='885' cy='277.7' r='2.2' fill='none' stroke='#10108a' stroke-width='1.2'/><rect x='922' y='281.5' width='9.8' height='21.5' fill='url(#gV)' stroke='#444' stroke-width='0.8'/><path d='M931.8,296 H935 Q937,297 937,301' stroke='#444' stroke-width='1' fill='none'/><line x1='926.5' y1='274' x2='926.5' y2='281.5' stroke='#333' stroke-width='1.2'/><rect x='923.2' y='266.5' width='6.5' height='7.5' fill='#333'/><rect x='924.2' y='268' width='4.5' height='2' fill='#ddd'/><path d='M836.2,387 V399 Q836.2,415.2 852.7,415.2 H945.5' stroke='rgb(136,136,136)' stroke-width='20.50' fill='none' stroke-linejoin='round' stroke-linecap='butt' /><path d='M836.2,387 V399 Q836.2,415.2 852.7,415.2 H945.5' stroke='rgb(146,146,146)' stroke-width='18.79' fill='none' stroke-linejoin='round' stroke-linecap='butt' transform='translate(-0.26,0)' /><path d='M836.2,387 V399 Q836.2,415.2 852.7,415.2 H945.5' stroke='rgb(156,156,156)' stroke-width='17.07' fill='none' stroke-linejoin='round' stroke-linecap='butt' transform='translate(-0.52,0)' /><path d='M836.2,387 V399 Q836.2,415.2 852.7,415.2 H945.5' stroke='rgb(165,165,165)' stroke-width='15.36' fill='none' stroke-linejoin='round' stroke-linecap='butt' transform='translate(-0.78,0)' /><path d='M836.2,387 V399 Q836.2,415.2 852.7,415.2 H945.5' stroke='rgb(173,173,173)' stroke-width='13.64' fill='none' stroke-linejoin='round' stroke-linecap='butt' transform='translate(-1.04,0)' /><path d='M836.2,387 V399 Q836.2,415.2 852.7,415.2 H945.5' stroke='rgb(182,182,182)' stroke-width='11.93' fill='none' stroke-linejoin='round' stroke-linecap='butt' transform='translate(-1.30,0)' /><path d='M836.2,387 V399 Q836.2,415.2 852.7,415.2 H945.5' stroke='rgb(190,190,190)' stroke-width='10.21' fill='none' stroke-linejoin='round' stroke-linecap='butt' transform='translate(-1.57,0)' /><path d='M836.2,387 V399 Q836.2,415.2 852.7,415.2 H945.5' stroke='rgb(198,198,198)' stroke-width='8.50' fill='none' stroke-linejoin='round' stroke-linecap='butt' transform='translate(-1.83,0)' /><path d='M836.2,387 V399 Q836.2,415.2 852.7,415.2 H945.5' stroke='rgb(206,206,206)' stroke-width='6.78' fill='none' stroke-linejoin='round' stroke-linecap='butt' transform='translate(-2.09,0)' /><path d='M836.2,387 V399 Q836.2,415.2 852.7,415.2 H945.5' stroke='rgb(214,214,214)' stroke-width='5.07' fill='none' stroke-linejoin='round' stroke-linecap='butt' transform='translate(-2.35,0)' /><path d='M836.2,387 V399 Q836.2,415.2 852.7,415.2 H945.5' stroke='rgb(222,222,222)' stroke-width='3.35' fill='none' stroke-linejoin='round' stroke-linecap='butt' transform='translate(-2.61,0)' /><path d='M836.2,387 V399 Q836.2,415.2 852.7,415.2 H945.5' stroke='rgb(230,230,230)' stroke-width='1.64' fill='none' stroke-linejoin='round' stroke-linecap='butt' transform='translate(-2.87,0)' /><ellipse cx='836.2' cy='388' rx='9.8' ry='3.5' fill='#d0d0d0' stroke='#555' stroke-width='0.7'/><path d='M826.4000000000001,395 Q836.2,399 846.0,395' stroke='#555' stroke-width='0.7' stroke-dasharray='1.2 1.2' fill='none'/><rect x='285' y='183' width='26' height='200' fill='url(#gV)' stroke='#666' stroke-width='0.6'/><rect x='284.7' y='209.8' width='5.2' height='3.2' rx='1.2' fill='#c4c4c4' stroke='#3a3a3a' stroke-width='0.7'/><rect x='295.4' y='209.8' width='5.2' height='3.2' rx='1.2' fill='#c4c4c4' stroke='#3a3a3a' stroke-width='0.7'/><rect x='306.1' y='209.8' width='5.2' height='3.2' rx='1.2' fill='#c4c4c4' stroke='#3a3a3a' stroke-width='0.7'/><rect x='284.7' y='228.2' width='5.2' height='3.2' rx='1.2' fill='#c4c4c4' stroke='#3a3a3a' stroke-width='0.7'/><rect x='295.4' y='228.2' width='5.2' height='3.2' rx='1.2' fill='#c4c4c4' stroke='#3a3a3a' stroke-width='0.7'/><rect x='306.1' y='228.2' width='5.2' height='3.2' rx='1.2' fill='#c4c4c4' stroke='#3a3a3a' stroke-width='0.7'/><rect x='281.0' y='212.8' width='34' height='15.4' fill='url(#gF)' stroke='#4a4a4a' stroke-width='0.8'/><line x1='281.0' y1='220.5' x2='315.0' y2='220.5' stroke='#7a7a7a' stroke-width='1'/><rect x='284.7' y='271.8' width='5.2' height='3.2' rx='1.2' fill='#c4c4c4' stroke='#3a3a3a' stroke-width='0.7'/><rect x='295.4' y='271.8' width='5.2' height='3.2' rx='1.2' fill='#c4c4c4' stroke='#3a3a3a' stroke-width='0.7'/><rect x='306.1' y='271.8' width='5.2' height='3.2' rx='1.2' fill='#c4c4c4' stroke='#3a3a3a' stroke-width='0.7'/><rect x='284.7' y='290.2' width='5.2' height='3.2' rx='1.2' fill='#c4c4c4' stroke='#3a3a3a' stroke-width='0.7'/><rect x='295.4' y='290.2' width='5.2' height='3.2' rx='1.2' fill='#c4c4c4' stroke='#3a3a3a' stroke-width='0.7'/><rect x='306.1' y='290.2' width='5.2' height='3.2' rx='1.2' fill='#c4c4c4' stroke='#3a3a3a' stroke-width='0.7'/><rect x='281.0' y='274.8' width='34' height='15.4' fill='url(#gF)' stroke='#4a4a4a' stroke-width='0.8'/><line x1='281.0' y1='282.5' x2='315.0' y2='282.5' stroke='#7a7a7a' stroke-width='1'/><rect x='285.5' y='296' width='25' height='48' fill='url(#gP)' stroke='#555' stroke-width='0.8'/><rect x='285.5' y='298.5' width='25' height='4.6' fill='#d02828'/><rect x='289.0' y='300.1' width='2' height='1.6' fill='#f4e0e0'/><rect x='294.5' y='300.1' width='2' height='1.6' fill='#f4e0e0'/><rect x='300.0' y='300.1' width='2' height='1.6' fill='#f4e0e0'/><rect x='305.5' y='300.1' width='2' height='1.6' fill='#f4e0e0'/><rect x='285.5' y='338.2' width='25' height='4.6' fill='#d02828'/><rect x='289.0' y='339.8' width='2' height='1.6' fill='#f4e0e0'/><rect x='294.5' y='339.8' width='2' height='1.6' fill='#f4e0e0'/><rect x='300.0' y='339.8' width='2' height='1.6' fill='#f4e0e0'/><rect x='305.5' y='339.8' width='2' height='1.6' fill='#f4e0e0'/><line x1='285.5' y1='313.5' x2='310.5' y2='313.5' stroke='#b01818' stroke-width='1.2'/><line x1='285.5' y1='327.6' x2='310.5' y2='327.6' stroke='#b01818' stroke-width='1.2'/><rect x='291' y='315.5' width='13' height='10' fill='none' stroke='#b01818' stroke-width='0.9'/><line x1='288' y1='313.5' x2='288' y2='327.6' stroke='#b01818' stroke-width='0.8'/><line x1='307' y1='313.5' x2='307' y2='327.6' stroke='#b01818' stroke-width='0.8'/><rect x='311' y='312' width='10.6' height='16.5' rx='2' fill='#dc0000' stroke='#8a0000' stroke-width='0.6'/><rect x='312.5' y='314' width='3' height='3' fill='#f4d0d0' opacity='0.7'/><rect x='321.6' y='308.5' width='10.7' height='24' rx='3' fill='#a80000' stroke='#8a0000' stroke-width='0.7'/><line x1='321.6' y1='316' x2='332.3' y2='316' stroke='#8a0000' stroke-width='0.8'/><line x1='321.6' y1='325' x2='332.3' y2='325' stroke='#8a0000' stroke-width='0.8'/><rect x='332.3' y='307.5' width='17.8' height='26.8' rx='1.5' fill='#dc0000' stroke='#8a0000' stroke-width='0.7'/><rect x='335.9' y='304.5' width='6.2' height='5' rx='1' fill='#dc0000' stroke='#8a0000' stroke-width='0.5'/><path d='M350.1,313.8 Q355.5,314.5 355.5,319.8 Q355.5,325.2 350.1,325.8 Z' fill='#f4d0d0' stroke='#8a0000' stroke-width='0.6'/><path d='M333.5,333.5 Q333,343.5 339,343.5 H344 Q349,343 348.5,334' stroke='#dc0000' stroke-width='1.8' fill='none'/><rect x='284.7' y='347.4' width='5.2' height='3.2' rx='1.2' fill='#c4c4c4' stroke='#3a3a3a' stroke-width='0.7'/><rect x='295.4' y='347.4' width='5.2' height='3.2' rx='1.2' fill='#c4c4c4' stroke='#3a3a3a' stroke-width='0.7'/><rect x='306.1' y='347.4' width='5.2' height='3.2' rx='1.2' fill='#c4c4c4' stroke='#3a3a3a' stroke-width='0.7'/><rect x='284.7' y='365.6' width='5.2' height='3.2' rx='1.2' fill='#c4c4c4' stroke='#3a3a3a' stroke-width='0.7'/><rect x='295.4' y='365.6' width='5.2' height='3.2' rx='1.2' fill='#c4c4c4' stroke='#3a3a3a' stroke-width='0.7'/><rect x='306.1' y='365.6' width='5.2' height='3.2' rx='1.2' fill='#c4c4c4' stroke='#3a3a3a' stroke-width='0.7'/><rect x='281.0' y='350.40000000000003' width='34' height='15.2' fill='url(#gF)' stroke='#4a4a4a' stroke-width='0.8'/><line x1='281.0' y1='358.0' x2='315.0' y2='358.0' stroke='#7a7a7a' stroke-width='1'/><rect x='279' y='382.5' width='38' height='4' fill='url(#gH)' stroke='#555' stroke-width='0.7'/><polygon points='290,386.5 306,386.5 303.5,398 293.5,398' fill='#5a5a5a'/><rect x='281' y='397.4' width='3.5' height='34.5' fill='url(#gV)' stroke='#555' stroke-width='0.7'/><polygon points='284.5,405 293.5,399 293.5,431 284.5,425.5' fill='url(#gV)' stroke='#666' stroke-width='0.6'/><rect x='293' y='398.6' width='11' height='36.3' fill='url(#gV)' stroke='#555' stroke-width='0.7'/><rect x='304.5' y='396.8' width='4.4' height='37' fill='url(#gV)' stroke='#555' stroke-width='0.7'/><rect x='308.9' y='401' width='9.7' height='27.8' fill='#c8c8c8' stroke='#555' stroke-width='0.6'/><rect x='308.9' y='404' width='9.7' height='3' fill='#404040'/><rect x='308.9' y='411' width='9.7' height='3' fill='#404040'/><rect x='308.9' y='418' width='9.7' height='3' fill='#404040'/><rect x='308.9' y='424' width='9.7' height='3' fill='#404040'/><polygon points='318.6,401 330.7,395 330.7,434.3 318.6,428.8' fill='url(#gV)' stroke='#666' stroke-width='0.6'/><rect x='330.7' y='395' width='61.7' height='39.3' fill='#9a9a9a' stroke='#333' stroke-width='0.8'/><rect x='332' y='397.5' width='56' height='2.6' rx='1.2' fill='#ececec' stroke='#555' stroke-width='0.4'/><rect x='332' y='400.3' width='56' height='2.4' fill='#585858'/><rect x='332' y='402.8' width='56' height='2.6' rx='1.2' fill='#ececec' stroke='#555' stroke-width='0.4'/><rect x='332' y='405.6' width='56' height='2.4' fill='#585858'/><rect x='332' y='408.1' width='56' height='2.6' rx='1.2' fill='#ececec' stroke='#555' stroke-width='0.4'/><rect x='332' y='410.90000000000003' width='56' height='2.4' fill='#585858'/><rect x='332' y='413.40000000000003' width='26' height='2.6' rx='1.2' fill='#ececec' stroke='#555' stroke-width='0.4'/><rect x='332' y='416.20000000000005' width='26' height='2.4' fill='#585858'/><rect x='332' y='418.70000000000005' width='26' height='2.6' rx='1.2' fill='#ececec' stroke='#555' stroke-width='0.4'/><rect x='332' y='421.50000000000006' width='26' height='2.4' fill='#585858'/><rect x='332' y='424.00000000000006' width='26' height='2.6' rx='1.2' fill='#ececec' stroke='#555' stroke-width='0.4'/><rect x='332' y='426.80000000000007' width='26' height='2.4' fill='#585858'/><rect x='332' y='429.30000000000007' width='26' height='2.6' rx='1.2' fill='#ececec' stroke='#555' stroke-width='0.4'/><rect x='332' y='432.1000000000001' width='26' height='2.4' fill='#585858'/><rect x='358' y='412.5' width='24' height='20' fill='#7a7a7a' stroke='#444' stroke-width='0.7'/><circle cx='368.5' cy='422.5' r='4.2' fill='#8a8a8a' stroke='#555' stroke-width='0.8'/><rect x='383.5' y='395' width='4' height='39.3' fill='#b8b8b8' stroke='#555' stroke-width='0.5'/><line x1='330.7' y1='434.5' x2='392.4' y2='434.5' stroke='#111' stroke-width='1.6'/><path d='M392.4,395.5 H398 Q405.1,397 405.1,414.5 Q405.1,432 398,433.8 H392.4 Z' fill='url(#gH)' stroke='#555' stroke-width='0.8'/><rect x='610.3' y='183' width='26' height='200' fill='url(#gV)' stroke='#666' stroke-width='0.6'/><rect x='610.0' y='209.8' width='5.2' height='3.2' rx='1.2' fill='#c4c4c4' stroke='#3a3a3a' stroke-width='0.7'/><rect x='620.7' y='209.8' width='5.2' height='3.2' rx='1.2' fill='#c4c4c4' stroke='#3a3a3a' stroke-width='0.7'/><rect x='631.4' y='209.8' width='5.2' height='3.2' rx='1.2' fill='#c4c4c4' stroke='#3a3a3a' stroke-width='0.7'/><rect x='610.0' y='228.2' width='5.2' height='3.2' rx='1.2' fill='#c4c4c4' stroke='#3a3a3a' stroke-width='0.7'/><rect x='620.7' y='228.2' width='5.2' height='3.2' rx='1.2' fill='#c4c4c4' stroke='#3a3a3a' stroke-width='0.7'/><rect x='631.4' y='228.2' width='5.2' height='3.2' rx='1.2' fill='#c4c4c4' stroke='#3a3a3a' stroke-width='0.7'/><rect x='606.3' y='212.8' width='34' height='15.4' fill='url(#gF)' stroke='#4a4a4a' stroke-width='0.8'/><line x1='606.3' y1='220.5' x2='640.3' y2='220.5' stroke='#7a7a7a' stroke-width='1'/><rect x='610.0' y='271.8' width='5.2' height='3.2' rx='1.2' fill='#c4c4c4' stroke='#3a3a3a' stroke-width='0.7'/><rect x='620.7' y='271.8' width='5.2' height='3.2' rx='1.2' fill='#c4c4c4' stroke='#3a3a3a' stroke-width='0.7'/><rect x='631.4' y='271.8' width='5.2' height='3.2' rx='1.2' fill='#c4c4c4' stroke='#3a3a3a' stroke-width='0.7'/><rect x='610.0' y='290.2' width='5.2' height='3.2' rx='1.2' fill='#c4c4c4' stroke='#3a3a3a' stroke-width='0.7'/><rect x='620.7' y='290.2' width='5.2' height='3.2' rx='1.2' fill='#c4c4c4' stroke='#3a3a3a' stroke-width='0.7'/><rect x='631.4' y='290.2' width='5.2' height='3.2' rx='1.2' fill='#c4c4c4' stroke='#3a3a3a' stroke-width='0.7'/><rect x='606.3' y='274.8' width='34' height='15.4' fill='url(#gF)' stroke='#4a4a4a' stroke-width='0.8'/><line x1='606.3' y1='282.5' x2='640.3' y2='282.5' stroke='#7a7a7a' stroke-width='1'/><rect x='610.8' y='296' width='25' height='48' fill='url(#gP)' stroke='#555' stroke-width='0.8'/><rect x='610.8' y='298.5' width='25' height='4.6' fill='#d02828'/><rect x='614.3' y='300.1' width='2' height='1.6' fill='#f4e0e0'/><rect x='619.8' y='300.1' width='2' height='1.6' fill='#f4e0e0'/><rect x='625.3' y='300.1' width='2' height='1.6' fill='#f4e0e0'/><rect x='630.8' y='300.1' width='2' height='1.6' fill='#f4e0e0'/><rect x='610.8' y='338.2' width='25' height='4.6' fill='#d02828'/><rect x='614.3' y='339.8' width='2' height='1.6' fill='#f4e0e0'/><rect x='619.8' y='339.8' width='2' height='1.6' fill='#f4e0e0'/><rect x='625.3' y='339.8' width='2' height='1.6' fill='#f4e0e0'/><rect x='630.8' y='339.8' width='2' height='1.6' fill='#f4e0e0'/><line x1='610.8' y1='313.5' x2='635.8' y2='313.5' stroke='#b01818' stroke-width='1.2'/><line x1='610.8' y1='327.6' x2='635.8' y2='327.6' stroke='#b01818' stroke-width='1.2'/><rect x='616.3' y='315.5' width='13' height='10' fill='none' stroke='#b01818' stroke-width='0.9'/><line x1='613.3' y1='313.5' x2='613.3' y2='327.6' stroke='#b01818' stroke-width='0.8'/><line x1='632.3' y1='313.5' x2='632.3' y2='327.6' stroke='#b01818' stroke-width='0.8'/><rect x='636.3' y='312' width='10.6' height='16.5' rx='2' fill='#dc0000' stroke='#8a0000' stroke-width='0.6'/><rect x='637.8' y='314' width='3' height='3' fill='#f4d0d0' opacity='0.7'/><rect x='646.9' y='308.5' width='10.7' height='24' rx='3' fill='#a80000' stroke='#8a0000' stroke-width='0.7'/><line x1='646.9' y1='316' x2='657.5999999999999' y2='316' stroke='#8a0000' stroke-width='0.8'/><line x1='646.9' y1='325' x2='657.5999999999999' y2='325' stroke='#8a0000' stroke-width='0.8'/><rect x='657.5999999999999' y='307.5' width='17.8' height='26.8' rx='1.5' fill='#dc0000' stroke='#8a0000' stroke-width='0.7'/><rect x='661.1999999999999' y='304.5' width='6.2' height='5' rx='1' fill='#dc0000' stroke='#8a0000' stroke-width='0.5'/><path d='M675.4,313.8 Q680.8,314.5 680.8,319.8 Q680.8,325.2 675.4,325.8 Z' fill='#f4d0d0' stroke='#8a0000' stroke-width='0.6'/><path d='M658.8,333.5 Q658.3,343.5 664.3,343.5 H669.3 Q674.3,343 673.8,334' stroke='#dc0000' stroke-width='1.8' fill='none'/><rect x='610.0' y='347.4' width='5.2' height='3.2' rx='1.2' fill='#c4c4c4' stroke='#3a3a3a' stroke-width='0.7'/><rect x='620.7' y='347.4' width='5.2' height='3.2' rx='1.2' fill='#c4c4c4' stroke='#3a3a3a' stroke-width='0.7'/><rect x='631.4' y='347.4' width='5.2' height='3.2' rx='1.2' fill='#c4c4c4' stroke='#3a3a3a' stroke-width='0.7'/><rect x='610.0' y='365.6' width='5.2' height='3.2' rx='1.2' fill='#c4c4c4' stroke='#3a3a3a' stroke-width='0.7'/><rect x='620.7' y='365.6' width='5.2' height='3.2' rx='1.2' fill='#c4c4c4' stroke='#3a3a3a' stroke-width='0.7'/><rect x='631.4' y='365.6' width='5.2' height='3.2' rx='1.2' fill='#c4c4c4' stroke='#3a3a3a' stroke-width='0.7'/><rect x='606.3' y='350.40000000000003' width='34' height='15.2' fill='url(#gF)' stroke='#4a4a4a' stroke-width='0.8'/><line x1='606.3' y1='358.0' x2='640.3' y2='358.0' stroke='#7a7a7a' stroke-width='1'/><rect x='604.3' y='382.5' width='38' height='4' fill='url(#gH)' stroke='#555' stroke-width='0.7'/><polygon points='615.3,386.5 631.3,386.5 628.8,398 618.8,398' fill='#5a5a5a'/><rect x='606.3' y='397.4' width='3.5' height='34.5' fill='url(#gV)' stroke='#555' stroke-width='0.7'/><polygon points='609.8,405 618.8,399 618.8,431 609.8,425.5' fill='url(#gV)' stroke='#666' stroke-width='0.6'/><rect x='618.3' y='398.6' width='11' height='36.3' fill='url(#gV)' stroke='#555' stroke-width='0.7'/><rect x='629.8' y='396.8' width='4.4' height='37' fill='url(#gV)' stroke='#555' stroke-width='0.7'/><rect x='634.1999999999999' y='401' width='9.7' height='27.8' fill='#c8c8c8' stroke='#555' stroke-width='0.6'/><rect x='634.1999999999999' y='404' width='9.7' height='3' fill='#404040'/><rect x='634.1999999999999' y='411' width='9.7' height='3' fill='#404040'/><rect x='634.1999999999999' y='418' width='9.7' height='3' fill='#404040'/><rect x='634.1999999999999' y='424' width='9.7' height='3' fill='#404040'/><polygon points='643.9,401 656.0,395 656.0,434.3 643.9,428.8' fill='url(#gV)' stroke='#666' stroke-width='0.6'/><rect x='656.0' y='395' width='61.7' height='39.3' fill='#9a9a9a' stroke='#333' stroke-width='0.8'/><rect x='657.3' y='397.5' width='56' height='2.6' rx='1.2' fill='#ececec' stroke='#555' stroke-width='0.4'/><rect x='657.3' y='400.3' width='56' height='2.4' fill='#585858'/><rect x='657.3' y='402.8' width='56' height='2.6' rx='1.2' fill='#ececec' stroke='#555' stroke-width='0.4'/><rect x='657.3' y='405.6' width='56' height='2.4' fill='#585858'/><rect x='657.3' y='408.1' width='56' height='2.6' rx='1.2' fill='#ececec' stroke='#555' stroke-width='0.4'/><rect x='657.3' y='410.90000000000003' width='56' height='2.4' fill='#585858'/><rect x='657.3' y='413.40000000000003' width='26' height='2.6' rx='1.2' fill='#ececec' stroke='#555' stroke-width='0.4'/><rect x='657.3' y='416.20000000000005' width='26' height='2.4' fill='#585858'/><rect x='657.3' y='418.70000000000005' width='26' height='2.6' rx='1.2' fill='#ececec' stroke='#555' stroke-width='0.4'/><rect x='657.3' y='421.50000000000006' width='26' height='2.4' fill='#585858'/><rect x='657.3' y='424.00000000000006' width='26' height='2.6' rx='1.2' fill='#ececec' stroke='#555' stroke-width='0.4'/><rect x='657.3' y='426.80000000000007' width='26' height='2.4' fill='#585858'/><rect x='657.3' y='429.30000000000007' width='26' height='2.6' rx='1.2' fill='#ececec' stroke='#555' stroke-width='0.4'/><rect x='657.3' y='432.1000000000001' width='26' height='2.4' fill='#585858'/><rect x='683.3' y='412.5' width='24' height='20' fill='#7a7a7a' stroke='#444' stroke-width='0.7'/><circle cx='693.8' cy='422.5' r='4.2' fill='#8a8a8a' stroke='#555' stroke-width='0.8'/><rect x='708.8' y='395' width='4' height='39.3' fill='#b8b8b8' stroke='#555' stroke-width='0.5'/><line x1='656.0' y1='434.5' x2='717.6999999999999' y2='434.5' stroke='#111' stroke-width='1.6'/><path d='M717.6999999999999,395.5 H723.3 Q730.4,397 730.4,414.5 Q730.4,432 723.3,433.8 H717.6999999999999 Z' fill='url(#gH)' stroke='#555' stroke-width='0.8'/><rect x='949.5' y='183' width='26' height='200' fill='url(#gV)' stroke='#666' stroke-width='0.6'/><rect x='949.2' y='209.8' width='5.2' height='3.2' rx='1.2' fill='#c4c4c4' stroke='#3a3a3a' stroke-width='0.7'/><rect x='959.9' y='209.8' width='5.2' height='3.2' rx='1.2' fill='#c4c4c4' stroke='#3a3a3a' stroke-width='0.7'/><rect x='970.6' y='209.8' width='5.2' height='3.2' rx='1.2' fill='#c4c4c4' stroke='#3a3a3a' stroke-width='0.7'/><rect x='949.2' y='228.2' width='5.2' height='3.2' rx='1.2' fill='#c4c4c4' stroke='#3a3a3a' stroke-width='0.7'/><rect x='959.9' y='228.2' width='5.2' height='3.2' rx='1.2' fill='#c4c4c4' stroke='#3a3a3a' stroke-width='0.7'/><rect x='970.6' y='228.2' width='5.2' height='3.2' rx='1.2' fill='#c4c4c4' stroke='#3a3a3a' stroke-width='0.7'/><rect x='945.5' y='212.8' width='34' height='15.4' fill='url(#gF)' stroke='#4a4a4a' stroke-width='0.8'/><line x1='945.5' y1='220.5' x2='979.5' y2='220.5' stroke='#7a7a7a' stroke-width='1'/><rect x='949.2' y='271.8' width='5.2' height='3.2' rx='1.2' fill='#c4c4c4' stroke='#3a3a3a' stroke-width='0.7'/><rect x='959.9' y='271.8' width='5.2' height='3.2' rx='1.2' fill='#c4c4c4' stroke='#3a3a3a' stroke-width='0.7'/><rect x='970.6' y='271.8' width='5.2' height='3.2' rx='1.2' fill='#c4c4c4' stroke='#3a3a3a' stroke-width='0.7'/><rect x='949.2' y='290.2' width='5.2' height='3.2' rx='1.2' fill='#c4c4c4' stroke='#3a3a3a' stroke-width='0.7'/><rect x='959.9' y='290.2' width='5.2' height='3.2' rx='1.2' fill='#c4c4c4' stroke='#3a3a3a' stroke-width='0.7'/><rect x='970.6' y='290.2' width='5.2' height='3.2' rx='1.2' fill='#c4c4c4' stroke='#3a3a3a' stroke-width='0.7'/><rect x='945.5' y='274.8' width='34' height='15.4' fill='url(#gF)' stroke='#4a4a4a' stroke-width='0.8'/><line x1='945.5' y1='282.5' x2='979.5' y2='282.5' stroke='#7a7a7a' stroke-width='1'/><rect x='950.0' y='296' width='25' height='48' fill='url(#gB)' stroke='#555' stroke-width='0.8'/><rect x='950.0' y='298.5' width='25' height='4.6' fill='#2828d0'/><rect x='953.5' y='300.1' width='2' height='1.6' fill='#f4e0e0'/><rect x='959.0' y='300.1' width='2' height='1.6' fill='#f4e0e0'/><rect x='964.5' y='300.1' width='2' height='1.6' fill='#f4e0e0'/><rect x='970.0' y='300.1' width='2' height='1.6' fill='#f4e0e0'/><rect x='950.0' y='338.2' width='25' height='4.6' fill='#2828d0'/><rect x='953.5' y='339.8' width='2' height='1.6' fill='#f4e0e0'/><rect x='959.0' y='339.8' width='2' height='1.6' fill='#f4e0e0'/><rect x='964.5' y='339.8' width='2' height='1.6' fill='#f4e0e0'/><rect x='970.0' y='339.8' width='2' height='1.6' fill='#f4e0e0'/><line x1='950.0' y1='313.5' x2='975.0' y2='313.5' stroke='#1818b0' stroke-width='1.2'/><line x1='950.0' y1='327.6' x2='975.0' y2='327.6' stroke='#1818b0' stroke-width='1.2'/><rect x='955.5' y='315.5' width='13' height='10' fill='none' stroke='#1818b0' stroke-width='0.9'/><line x1='952.5' y1='313.5' x2='952.5' y2='327.6' stroke='#1818b0' stroke-width='0.8'/><line x1='971.5' y1='313.5' x2='971.5' y2='327.6' stroke='#1818b0' stroke-width='0.8'/><rect x='975.5' y='312' width='10.6' height='16.5' rx='2' fill='#0c0cc8' stroke='#00008a' stroke-width='0.6'/><rect x='977.0' y='314' width='3' height='3' fill='#d0d0f4' opacity='0.7'/><rect x='986.1' y='308.5' width='10.7' height='24' rx='3' fill='#0000a0' stroke='#00008a' stroke-width='0.7'/><line x1='986.1' y1='316' x2='996.8' y2='316' stroke='#00008a' stroke-width='0.8'/><line x1='986.1' y1='325' x2='996.8' y2='325' stroke='#00008a' stroke-width='0.8'/><rect x='996.8' y='307.5' width='17.8' height='26.8' rx='1.5' fill='#0c0cc8' stroke='#00008a' stroke-width='0.7'/><rect x='1000.4' y='304.5' width='6.2' height='5' rx='1' fill='#0c0cc8' stroke='#00008a' stroke-width='0.5'/><path d='M1014.6,313.8 Q1020.0,314.5 1020.0,319.8 Q1020.0,325.2 1014.6,325.8 Z' fill='#d0d0f4' stroke='#00008a' stroke-width='0.6'/><path d='M998.0,333.5 Q997.5,343.5 1003.5,343.5 H1008.5 Q1013.5,343 1013.0,334' stroke='#0c0cc8' stroke-width='1.8' fill='none'/><rect x='949.2' y='347.4' width='5.2' height='3.2' rx='1.2' fill='#c4c4c4' stroke='#3a3a3a' stroke-width='0.7'/><rect x='959.9' y='347.4' width='5.2' height='3.2' rx='1.2' fill='#c4c4c4' stroke='#3a3a3a' stroke-width='0.7'/><rect x='970.6' y='347.4' width='5.2' height='3.2' rx='1.2' fill='#c4c4c4' stroke='#3a3a3a' stroke-width='0.7'/><rect x='949.2' y='365.6' width='5.2' height='3.2' rx='1.2' fill='#c4c4c4' stroke='#3a3a3a' stroke-width='0.7'/><rect x='959.9' y='365.6' width='5.2' height='3.2' rx='1.2' fill='#c4c4c4' stroke='#3a3a3a' stroke-width='0.7'/><rect x='970.6' y='365.6' width='5.2' height='3.2' rx='1.2' fill='#c4c4c4' stroke='#3a3a3a' stroke-width='0.7'/><rect x='945.5' y='350.40000000000003' width='34' height='15.2' fill='url(#gF)' stroke='#4a4a4a' stroke-width='0.8'/><line x1='945.5' y1='358.0' x2='979.5' y2='358.0' stroke='#7a7a7a' stroke-width='1'/><rect x='943.5' y='382.5' width='38' height='4' fill='url(#gH)' stroke='#555' stroke-width='0.7'/><polygon points='954.5,386.5 970.5,386.5 968.0,398 958.0,398' fill='#5a5a5a'/><rect x='945.5' y='397.4' width='3.5' height='34.5' fill='url(#gV)' stroke='#555' stroke-width='0.7'/><polygon points='949.0,405 958.0,399 958.0,431 949.0,425.5' fill='url(#gV)' stroke='#666' stroke-width='0.6'/><rect x='957.5' y='398.6' width='11' height='36.3' fill='url(#gV)' stroke='#555' stroke-width='0.7'/><rect x='969.0' y='396.8' width='4.4' height='37' fill='url(#gV)' stroke='#555' stroke-width='0.7'/><rect x='973.4' y='401' width='9.7' height='27.8' fill='#c8c8c8' stroke='#555' stroke-width='0.6'/><rect x='973.4' y='404' width='9.7' height='3' fill='#404040'/><rect x='973.4' y='411' width='9.7' height='3' fill='#404040'/><rect x='973.4' y='418' width='9.7' height='3' fill='#404040'/><rect x='973.4' y='424' width='9.7' height='3' fill='#404040'/><polygon points='983.1,401 995.2,395 995.2,434.3 983.1,428.8' fill='url(#gV)' stroke='#666' stroke-width='0.6'/><rect x='995.2' y='395' width='61.7' height='39.3' fill='#9a9a9a' stroke='#333' stroke-width='0.8'/><rect x='996.5' y='397.5' width='56' height='2.6' rx='1.2' fill='#ececec' stroke='#555' stroke-width='0.4'/><rect x='996.5' y='400.3' width='56' height='2.4' fill='#585858'/><rect x='996.5' y='402.8' width='56' height='2.6' rx='1.2' fill='#ececec' stroke='#555' stroke-width='0.4'/><rect x='996.5' y='405.6' width='56' height='2.4' fill='#585858'/><rect x='996.5' y='408.1' width='56' height='2.6' rx='1.2' fill='#ececec' stroke='#555' stroke-width='0.4'/><rect x='996.5' y='410.90000000000003' width='56' height='2.4' fill='#585858'/><rect x='996.5' y='413.40000000000003' width='26' height='2.6' rx='1.2' fill='#ececec' stroke='#555' stroke-width='0.4'/><rect x='996.5' y='416.20000000000005' width='26' height='2.4' fill='#585858'/><rect x='996.5' y='418.70000000000005' width='26' height='2.6' rx='1.2' fill='#ececec' stroke='#555' stroke-width='0.4'/><rect x='996.5' y='421.50000000000006' width='26' height='2.4' fill='#585858'/><rect x='996.5' y='424.00000000000006' width='26' height='2.6' rx='1.2' fill='#ececec' stroke='#555' stroke-width='0.4'/><rect x='996.5' y='426.80000000000007' width='26' height='2.4' fill='#585858'/><rect x='996.5' y='429.30000000000007' width='26' height='2.6' rx='1.2' fill='#ececec' stroke='#555' stroke-width='0.4'/><rect x='996.5' y='432.1000000000001' width='26' height='2.4' fill='#585858'/><rect x='1022.5' y='412.5' width='24' height='20' fill='#7a7a7a' stroke='#444' stroke-width='0.7'/><circle cx='1033.0' cy='422.5' r='4.2' fill='#8a8a8a' stroke='#555' stroke-width='0.8'/><rect x='1048.0' y='395' width='4' height='39.3' fill='#b8b8b8' stroke='#555' stroke-width='0.5'/><line x1='995.2' y1='434.5' x2='1056.9' y2='434.5' stroke='#111' stroke-width='1.6'/><path d='M1056.9,395.5 H1062.5 Q1069.6,397 1069.6,414.5 Q1069.6,432 1062.5,433.8 H1056.9 Z' fill='url(#gH)' stroke='#555' stroke-width='0.8'/><rect x='726.8' y='217.5' width='7.6' height='4.5' fill='#2a2a2a'/><rect x='718' y='221.6' width='19.8' height='6' rx='1.5' fill='url(#gV)' stroke='#444' stroke-width='0.7'/><rect x='718' y='227.6' width='19.8' height='1.6' fill='#3a3a3a'/><rect x='718.5' y='229.2' width='9.4' height='29.5' fill='url(#gV)' stroke='#333' stroke-width='0.8'/><rect x='727.9' y='229.2' width='9.4' height='29.5' fill='url(#gV)' stroke='#333' stroke-width='0.8'/><rect x='719' y='257' width='18' height='3.2' fill='#d8d8d8' stroke='#555' stroke-width='0.5'/><rect x='709' y='255' width='7.5' height='5.5' fill='#6a6a6a' stroke='#333' stroke-width='0.5'/><rect x='708.8' y='260.2' width='31.8' height='3.5' fill='#9a9a9a' stroke='#444' stroke-width='0.6'/><rect x='717.8' y='263.7' width='20.7' height='7.6' fill='#1e1e1e'/><circle cx='722' cy='267.5' r='1.9' fill='#d0d0d0'/><circle cx='728.1' cy='267.5' r='1.9' fill='#d0d0d0'/><circle cx='734.2' cy='267.5' r='1.9' fill='#d0d0d0'/><path d='M607.7,153 L781.5,475.3' stroke='rgb(136,136,136)' stroke-width='22.00' fill='none' stroke-linejoin='round' stroke-linecap='butt' /><path d='M607.7,153 L781.5,475.3' stroke='rgb(146,146,146)' stroke-width='20.16' fill='none' stroke-linejoin='round' stroke-linecap='butt' transform='translate(-0.28,0)' /><path d='M607.7,153 L781.5,475.3' stroke='rgb(156,156,156)' stroke-width='18.32' fill='none' stroke-linejoin='round' stroke-linecap='butt' transform='translate(-0.56,0)' /><path d='M607.7,153 L781.5,475.3' stroke='rgb(165,165,165)' stroke-width='16.48' fill='none' stroke-linejoin='round' stroke-linecap='butt' transform='translate(-0.84,0)' /><path d='M607.7,153 L781.5,475.3' stroke='rgb(173,173,173)' stroke-width='14.64' fill='none' stroke-linejoin='round' stroke-linecap='butt' transform='translate(-1.12,0)' /><path d='M607.7,153 L781.5,475.3' stroke='rgb(182,182,182)' stroke-width='12.80' fill='none' stroke-linejoin='round' stroke-linecap='butt' transform='translate(-1.40,0)' /><path d='M607.7,153 L781.5,475.3' stroke='rgb(190,190,190)' stroke-width='10.96' fill='none' stroke-linejoin='round' stroke-linecap='butt' transform='translate(-1.68,0)' /><path d='M607.7,153 L781.5,475.3' stroke='rgb(198,198,198)' stroke-width='9.12' fill='none' stroke-linejoin='round' stroke-linecap='butt' transform='translate(-1.96,0)' /><path d='M607.7,153 L781.5,475.3' stroke='rgb(206,206,206)' stroke-width='7.28' fill='none' stroke-linejoin='round' stroke-linecap='butt' transform='translate(-2.24,0)' /><path d='M607.7,153 L781.5,475.3' stroke='rgb(214,214,214)' stroke-width='5.44' fill='none' stroke-linejoin='round' stroke-linecap='butt' transform='translate(-2.52,0)' /><path d='M607.7,153 L781.5,475.3' stroke='rgb(222,222,222)' stroke-width='3.60' fill='none' stroke-linejoin='round' stroke-linecap='butt' transform='translate(-2.80,0)' /><path d='M607.7,153 L781.5,475.3' stroke='rgb(230,230,230)' stroke-width='1.76' fill='none' stroke-linejoin='round' stroke-linecap='butt' transform='translate(-3.08,0)' /><path d='M1136,493 L944.8,153.6 L607,153 L279.5,149.8 L474,475.3 L1058,475.3 L1119,577' stroke='rgb(136,136,136)' stroke-width='22.00' fill='none' stroke-linejoin='round' stroke-linecap='butt' /><path d='M1136,493 L944.8,153.6 L607,153 L279.5,149.8 L474,475.3 L1058,475.3 L1119,577' stroke='rgb(146,146,146)' stroke-width='20.16' fill='none' stroke-linejoin='round' stroke-linecap='butt' transform='translate(-0.28,0)' /><path d='M1136,493 L944.8,153.6 L607,153 L279.5,149.8 L474,475.3 L1058,475.3 L1119,577' stroke='rgb(156,156,156)' stroke-width='18.32' fill='none' stroke-linejoin='round' stroke-linecap='butt' transform='translate(-0.56,0)' /><path d='M1136,493 L944.8,153.6 L607,153 L279.5,149.8 L474,475.3 L1058,475.3 L1119,577' stroke='rgb(165,165,165)' stroke-width='16.48' fill='none' stroke-linejoin='round' stroke-linecap='butt' transform='translate(-0.84,0)' /><path d='M1136,493 L944.8,153.6 L607,153 L279.5,149.8 L474,475.3 L1058,475.3 L1119,577' stroke='rgb(173,173,173)' stroke-width='14.64' fill='none' stroke-linejoin='round' stroke-linecap='butt' transform='translate(-1.12,0)' /><path d='M1136,493 L944.8,153.6 L607,153 L279.5,149.8 L474,475.3 L1058,475.3 L1119,577' stroke='rgb(182,182,182)' stroke-width='12.80' fill='none' stroke-linejoin='round' stroke-linecap='butt' transform='translate(-1.40,0)' /><path d='M1136,493 L944.8,153.6 L607,153 L279.5,149.8 L474,475.3 L1058,475.3 L1119,577' stroke='rgb(190,190,190)' stroke-width='10.96' fill='none' stroke-linejoin='round' stroke-linecap='butt' transform='translate(-1.68,0)' /><path d='M1136,493 L944.8,153.6 L607,153 L279.5,149.8 L474,475.3 L1058,475.3 L1119,577' stroke='rgb(198,198,198)' stroke-width='9.12' fill='none' stroke-linejoin='round' stroke-linecap='butt' transform='translate(-1.96,0)' /><path d='M1136,493 L944.8,153.6 L607,153 L279.5,149.8 L474,475.3 L1058,475.3 L1119,577' stroke='rgb(206,206,206)' stroke-width='7.28' fill='none' stroke-linejoin='round' stroke-linecap='butt' transform='translate(-2.24,0)' /><path d='M1136,493 L944.8,153.6 L607,153 L279.5,149.8 L474,475.3 L1058,475.3 L1119,577' stroke='rgb(214,214,214)' stroke-width='5.44' fill='none' stroke-linejoin='round' stroke-linecap='butt' transform='translate(-2.52,0)' /><path d='M1136,493 L944.8,153.6 L607,153 L279.5,149.8 L474,475.3 L1058,475.3 L1119,577' stroke='rgb(222,222,222)' stroke-width='3.60' fill='none' stroke-linejoin='round' stroke-linecap='butt' transform='translate(-2.80,0)' /><path d='M1136,493 L944.8,153.6 L607,153 L279.5,149.8 L474,475.3 L1058,475.3 L1119,577' stroke='rgb(230,230,230)' stroke-width='1.76' fill='none' stroke-linejoin='round' stroke-linecap='butt' transform='translate(-3.08,0)' /><circle cx='1102.4' cy='180.3' r='30.5' fill='#18c018'/><circle cx='1102.4' cy='180.3' r='27.5' fill='url(#gG)'/><circle cx='1102.4' cy='249' r='30.5' fill='#10c8d0'/><circle cx='1102.4' cy='249' r='27.5' fill='url(#gC)'/><circle cx='1102.4' cy='318.4' r='30.5' fill='#e08a00'/><circle cx='1102.4' cy='318.4' r='27.5' fill='url(#gO)'/><rect x='187' y='448' width='12' height='11' fill='url(#gTB)' stroke='#707070' stroke-width='1'/><path d='M189.5,453.5 L192,456.5 L197,450.5' stroke='#909090' stroke-width='1.4' fill='none'/><rect x='518.6' y='446.2' width='12' height='11' fill='url(#gTB)' stroke='#707070' stroke-width='1'/><rect x='856.6' y='446.5' width='12' height='11' fill='url(#gTB)' stroke='#707070' stroke-width='1' opacity='0.45'/><rect x='379.5' y='532' width='541.5' height='44.5' fill='#c4c4c4' stroke='#666' stroke-width='2'/></svg>
<div class='t' style='left:13.6px;top:135.5px;width:37.8px;height:16px;background:#cecece;color:#383838;font-size:8px;font-weight:bold;line-height:16px;padding-left:2.4px'>PLC连接</div>
<div class='t' style='left:32.7px;top:157.3px;font-size:10px;font-weight:bold;color:#f4ecd0;font-family:"Liberation Sans",sans-serif'><span style='letter-spacing:0.8px'>500</span><span style='font-size:9px'>溜破</span></div>
<div class='t' style='left:32.7px;top:175.3px;font-size:10px;font-weight:bold;color:#f4ecd0;font-family:"Liberation Sans",sans-serif'><span style='letter-spacing:0.8px'>450</span><span style='font-size:9px'>溜破</span></div>
<div class='t' style='left:32.7px;top:193.3px;font-size:10px;font-weight:bold;color:#f4ecd0;font-family:"Liberation Sans",sans-serif'><span style='letter-spacing:0.8px'>350</span><span style='font-size:9px'>溜破</span></div>
<div class='t' style='left:32.7px;top:211.3px;font-size:10px;font-weight:bold;color:#f4ecd0;font-family:"Liberation Sans",sans-serif'><span style='letter-spacing:0.8px'>800</span><span style='font-size:9px'>排水</span></div>
<div class='t' style='left:32.7px;top:229.3px;font-size:10px;font-weight:bold;color:#f4ecd0;font-family:"Liberation Sans",sans-serif'><span style='letter-spacing:0.8px'>450</span><span style='font-size:9px'>排水</span></div>
<div class='t' style='left:32.7px;top:247.3px;font-size:10px;font-weight:bold;color:#f4ecd0;font-family:"Liberation Sans",sans-serif'><span style='letter-spacing:0.8px'>350</span><span style='font-size:9px'>排水</span></div>
<div class='t' style='left:32.7px;top:265.3px;font-size:10px;font-weight:bold;color:#f4ecd0;font-family:"Liberation Sans",sans-serif'><span style='letter-spacing:0.8px'>600</span><span style='font-size:9px'>风机</span></div>
<div class='t' style='left:32.7px;top:283.3px;font-size:10px;font-weight:bold;color:#f4ecd0;font-family:"Liberation Sans",sans-serif'><span style='letter-spacing:0.8px'>550</span><span style='font-size:9px'>风机</span></div>
<div class='t' style='left:32.7px;top:301.3px;font-size:10px;font-weight:bold;color:#f4ecd0;font-family:"Liberation Sans",sans-serif'><span style='letter-spacing:0.8px'>500</span><span style='font-size:9px'>风机</span></div>
<div class='t' style='left:32.7px;top:319.3px;font-size:10px;font-weight:bold;color:#f4ecd0;font-family:"Liberation Sans",sans-serif'><span style='letter-spacing:0.8px'>486</span><span style='font-size:9px'>风机</span></div>
<div class='t' style='left:32.7px;top:337.3px;font-size:10px;font-weight:bold;color:#f4ecd0;font-family:"Liberation Sans",sans-serif'><span style='letter-spacing:0.8px'>450</span><span style='font-size:9px'>风机</span></div>
<div class='t' style='left:32.7px;top:355.3px;font-size:10px;font-weight:bold;color:#f4ecd0;font-family:"Liberation Sans",sans-serif'><span style='letter-spacing:0.8px'>200</span><span style='font-size:9px'>放矿</span></div>
<div class='t' style='left:32.7px;top:373.3px;font-size:10px;font-weight:bold;color:#f4ecd0;font-family:"Liberation Sans",sans-serif'><span style='letter-spacing:0.8px'>0</span><span style='font-size:9px'>放矿</span></div>
<div class='a' style='left:4px;top:443.5px;width:78px;height:23.5px;background:linear-gradient(#fafafa,#dedede);border:1px solid #8a9a9a;color:#303030;font-size:15px;line-height:21px;text-align:center;white-space:nowrap'>溜破系统</div>
<div class='a' style='left:4px;top:472.5px;width:78px;height:23.5px;background:linear-gradient(#60ffff,#10e0e8);border:1px solid #8a9a9a;color:#303030;font-size:15px;line-height:21px;text-align:center;white-space:nowrap'>水泵系统</div>
<div class='a' style='left:4px;top:501.5px;width:78px;height:23.5px;background:linear-gradient(#fafafa,#dedede);border:1px solid #8a9a9a;color:#303030;font-size:15px;line-height:21px;text-align:center;white-space:nowrap'>风机系统</div>
<div class='a' style='left:4px;top:530.6px;width:78px;height:23.5px;background:linear-gradient(#fafafa,#dedede);border:1px solid #8a9a9a;color:#303030;font-size:15px;line-height:21px;text-align:center;white-space:nowrap'>深部放矿</div>
<div class='t' style='left:135.2px;top:179.8px;width:37px;height:15.4px;background:#1aa81a;border:1px solid #0a5a0a;color:#062a06;font-size:13px;line-height:13px;padding-left:1px;overflow:hidden'><span style='display:inline-block;transform:scaleX(0.84);transform-origin:0 0'>1.23 M</span></div>
<div class='t' style='left:219px;top:151.8px;width:37.4px;height:16px;background:#1aa81a;border:1px solid #0a5a0a;color:#062a06;font-size:13px;line-height:14px;padding-left:1px;overflow:hidden'><span style='display:inline-block;transform:scaleX(0.84);transform-origin:0 0'>2.27 M</span></div>
<div class='t' style='left:109.6px;top:228.8px;font-size:9.3px;color:#404040'>内水仓水位</div>
<div class='t' style='left:194.4px;top:228.8px;font-size:9.3px;color:#404040'>外水仓水位</div>
<div class='wb' style='left:159px;top:242.8px;width:22.6px;height:13.2px;font-size:10px;line-height:11.2px'>开启</div>
<div class='wb' style='left:159px;top:257.4px;width:22.6px;height:12.4px;font-size:10px;line-height:10.4px'>关闭</div>
<div class='wb' style='left:210.3px;top:242.8px;width:22.6px;height:13.2px;font-size:10px;line-height:11.2px'>开启</div>
<div class='wb' style='left:210.3px;top:257.4px;width:22.6px;height:12.4px;font-size:10px;line-height:10.4px'>关闭</div>
<div class='t' style='left:157.6px;top:302.4px;font-size:8.8px;color:#404040'>进水阀</div>
<div class='t' style='left:207.8px;top:302.4px;font-size:8.8px;color:#404040'>排气阀</div>
<div class='t' style='left:240.5px;top:250.6px;font-size:9px;color:#303030'>液位开关</div>
<div class='wb' style='left:490px;top:242.8px;width:22.6px;height:13.2px;font-size:10px;line-height:11.2px'>开启</div>
<div class='wb' style='left:490px;top:257.4px;width:22.6px;height:12.4px;font-size:10px;line-height:10.4px'>关闭</div>
<div class='wb' style='left:541.3px;top:242.8px;width:22.6px;height:13.2px;font-size:10px;line-height:11.2px'>开启</div>
<div class='wb' style='left:541.3px;top:257.4px;width:22.6px;height:12.4px;font-size:10px;line-height:10.4px'>关闭</div>
<div class='t' style='left:488.6px;top:302.4px;font-size:8.8px;color:#404040'>进水阀</div>
<div class='t' style='left:538.8px;top:302.4px;font-size:8.8px;color:#404040'>排气阀</div>
<div class='t' style='left:571.5px;top:250.6px;font-size:9px;color:#303030'>液位开关</div>
<div class='wb' style='left:832px;top:242.8px;width:22.6px;height:13.2px;font-size:10px;line-height:11.2px'>开启</div>
<div class='wb' style='left:832px;top:257.4px;width:22.6px;height:12.4px;font-size:10px;line-height:10.4px'>关闭</div>
<div class='wb' style='left:883.3px;top:242.8px;width:22.6px;height:13.2px;font-size:10px;line-height:11.2px'>开启</div>
<div class='wb' style='left:883.3px;top:257.4px;width:22.6px;height:12.4px;font-size:10px;line-height:10.4px'>关闭</div>
<div class='t' style='left:830.6px;top:302.4px;font-size:8.8px;color:#404040'>进水阀</div>
<div class='t' style='left:880.8px;top:302.4px;font-size:8.8px;color:#404040'>排气阀</div>
<div class='t' style='left:913.5px;top:250.6px;font-size:9px;color:#303030'>液位开关</div>
<div class='wb' style='left:329px;top:347.6px;width:22.6px;height:13px;font-size:10px;line-height:11px'>开启</div>
<div class='wb' style='left:329px;top:361.6px;width:22.6px;height:13px;font-size:10px;line-height:11px'>关闭</div>
<div class='wb' style='left:655.6px;top:343.5px;width:22.6px;height:13px;font-size:10px;line-height:11px'>开启</div>
<div class='wb' style='left:655.6px;top:357.5px;width:22.6px;height:13px;font-size:10px;line-height:11px'>关闭</div>
<div class='wb' style='left:993.8px;top:347.6px;width:22.6px;height:13px;font-size:10px;line-height:11px'>开启</div>
<div class='wb' style='left:993.8px;top:361.6px;width:22.6px;height:13px;font-size:10px;line-height:11px'>关闭</div>
<div class='wb' style='left:683.4px;top:233.4px;width:22px;height:12.8px;font-size:10px;line-height:10.8px'>开启</div>
<div class='wb' style='left:683.4px;top:247.8px;width:22px;height:12.8px;font-size:10px;line-height:10.8px'>关闭</div>
<div class='t' style='left:713.7px;top:279.4px;font-size:9px;color:#404040'>加水泵</div>
<div class='lbl' style='left:391.8px;top:171.4px;width:102.2px;height:15.2px;font-size:12px;line-height:15.2px'>内水仓超声波水位:</div>
<div class='grn' style='left:505.9px;top:171.8px;width:53.8px;height:15.8px;line-height:15.8px'>1.23</div>
<div class='unit' style='left:560.6px;top:171.6px;width:9.4px;height:15.2px;line-height:15.2px'>M</div>
<div class='lbl' style='left:391.8px;top:194.2px;width:102.2px;height:15.2px;font-size:12px;line-height:15.2px'>外水仓超声波水位:</div>
<div class='grn' style='left:505.9px;top:194.5px;width:53.8px;height:15.8px;line-height:15.8px'>2.27</div>
<div class='unit' style='left:560.6px;top:194.3px;width:9.4px;height:15.2px;line-height:15.2px'>M</div>
<div class='lbl' style='left:730px;top:171.8px;width:39.3px;height:14.5px;font-size:12px;line-height:14.5px'>流量1:</div>
<div class='grn' style='left:780.8px;top:171.2px;width:54.2px;height:16.1px;line-height:16.1px'>0.0</div>
<div class='unit' style='left:837px;top:171.5px;width:26.5px;height:15px;line-height:15px'>m<sup style="font-size:8px">3</sup>/h</div>
<div class='lbl' style='left:730px;top:193.7px;width:39.3px;height:14.5px;font-size:12px;line-height:14.5px'>流量2:</div>
<div class='grn' style='left:780.8px;top:193.7px;width:54.2px;height:16.1px;line-height:16.1px'>0.9</div>
<div class='unit' style='left:837px;top:193.7px;width:26.5px;height:15px;line-height:15px'>m<sup style="font-size:8px">3</sup>/h</div>
<div class='a' style='left:867.8px;top:175.9px;width:36.2px;height:29.4px;background:#f6f6f6;border:1px solid #c8c8c8;color:#141414;text-align:center'><div style='position:absolute;left:0;right:0;top:2px;font-size:12.5px;font-weight:bold;line-height:13px'>使用</div><div style='position:absolute;left:0;right:0;top:13.8px;font-size:12px;line-height:13px'>流量2</div></div>
<div class='t' style='left:1072px;top:174.5px;width:61px;text-align:center;font-size:11px;color:#2a3a2a'>800排水</div>
<div class='t' style='left:1072px;top:243.2px;width:61px;text-align:center;font-size:11px;color:#2a3a2a'>450排水</div>
<div class='t' style='left:1072px;top:312.59999999999997px;width:61px;text-align:center;font-size:11px;color:#2a3a2a'>350排水</div>
<div class='t' style='left:212px;top:445.5px;font-size:16px;font-weight:bold;color:#2828a0;font-family:"Liberation Serif",serif'>450</div>
<div class='t' style='left:247.4px;top:445.5px;font-size:16px;font-weight:bold;color:#2828a0;font-family:"Liberation Serif",serif'>1#</div>
<div class='t' style='left:271.6px;top:444.5px;font-size:15px;font-weight:bold;color:#2828a0'>水泵</div>
<div class='wb' style='left:309.6px;top:440.2px;width:30px;height:22px;line-height:20px;font-size:10px;box-shadow:1px 1px 0 #888'>开启</div>
<div class='wb' style='left:339.6px;top:440.2px;width:30.5px;height:22px;line-height:20px;font-size:10px;box-shadow:1px 1px 0 #888'>关闭</div>
<div class='t' style='left:541px;top:445.5px;font-size:16px;font-weight:bold;color:#2828a0;font-family:"Liberation Serif",serif'>450</div>
<div class='t' style='left:575.7px;top:445.5px;font-size:16px;font-weight:bold;color:#2828a0;font-family:"Liberation Serif",serif'>2#</div>
<div class='t' style='left:600.8px;top:444.5px;font-size:15px;font-weight:bold;color:#2828a0'>水泵</div>
<div class='wb' style='left:638.8px;top:439.8px;width:30px;height:22px;line-height:20px;font-size:10px;box-shadow:1px 1px 0 #888'>开启</div>
<div class='wb' style='left:668.8px;top:439.8px;width:30.5px;height:22px;line-height:20px;font-size:10px;box-shadow:1px 1px 0 #888'>关闭</div>
<div class='t' style='left:880.8px;top:445.5px;font-size:16px;font-weight:bold;color:#2828a0;font-family:"Liberation Serif",serif'>450</div>
<div class='t' style='left:914.8px;top:445.5px;font-size:16px;font-weight:bold;color:#2828a0;font-family:"Liberation Serif",serif'>3#</div>
<div class='t' style='left:939.9px;top:444.5px;font-size:15px;font-weight:bold;color:#2828a0'>水泵</div>
<div class='wb' style='left:977.9px;top:439.8px;width:30px;height:22px;line-height:20px;font-size:10px;box-shadow:1px 1px 0 #888'>开启</div>
<div class='wb' style='left:1007.9px;top:439.8px;width:30.5px;height:22px;line-height:20px;font-size:10px;box-shadow:1px 1px 0 #888'>关闭</div>
<div class='lbl' style='left:146px;top:492.6px;width:29.6px;height:15.1px;font-size:12px;line-height:15.1px'>压力:</div>
<div class='lbl' style='left:146px;top:509.8px;width:29.6px;height:15.2px;font-size:12px;line-height:15.2px'>温度:</div>
<div class='grn' style='left:189.3px;top:492.6px;width:53.3px;height:15.3px;line-height:15.3px'>4.2</div>
<div class='grn' style='left:189.3px;top:509.6px;width:53.3px;height:15.6px;line-height:15.6px'>24.0</div>
<div class='unit' style='left:244.8px;top:492.6px;width:18.5px;height:15.1px;line-height:15.1px'>MPa</div>
<div class='unit' style='left:244.8px;top:509.8px;width:13.5px;height:15.2px;line-height:15.2px'>℃</div>
<div class='lbl' style='left:269.2px;top:492.6px;width:31.8px;height:15.1px;font-size:12px;line-height:15.1px'>电压:</div>
<div class='lbl' style='left:269.2px;top:509.8px;width:31.8px;height:15.2px;font-size:12px;line-height:15.2px'>电流:</div>
<div class='grn' style='left:311.8px;top:492.6px;width:54px;height:15.3px;line-height:15.3px'>406.7</div>
<div class='grn' style='left:311.8px;top:509.6px;width:54px;height:15.6px;line-height:15.6px'>1.2</div>
<div class='unit' style='left:368px;top:492.6px;width:13px;height:15.1px;line-height:15.1px'>V</div>
<div class='unit' style='left:368px;top:509.8px;width:13px;height:15.2px;line-height:15.2px'>A</div>
<div class='lbl' style='left:485.1px;top:492.6px;width:29.6px;height:15.1px;font-size:12px;line-height:15.1px'>压力:</div>
<div class='lbl' style='left:485.1px;top:509.8px;width:29.6px;height:15.2px;font-size:12px;line-height:15.2px'>温度:</div>
<div class='grn' style='left:528.4000000000001px;top:492.6px;width:53.3px;height:15.3px;line-height:15.3px'>4.2</div>
<div class='grn' style='left:528.4000000000001px;top:509.6px;width:53.3px;height:15.6px;line-height:15.6px'>15.2</div>
<div class='unit' style='left:583.9000000000001px;top:492.6px;width:18.5px;height:15.1px;line-height:15.1px'>MPa</div>
<div class='unit' style='left:583.9000000000001px;top:509.8px;width:13.5px;height:15.2px;line-height:15.2px'>℃</div>
<div class='lbl' style='left:608.3px;top:492.6px;width:31.8px;height:15.1px;font-size:12px;line-height:15.1px'>电压:</div>
<div class='lbl' style='left:608.3px;top:509.8px;width:31.8px;height:15.2px;font-size:12px;line-height:15.2px'>电流:</div>
<div class='grn' style='left:650.9000000000001px;top:492.6px;width:54px;height:15.3px;line-height:15.3px'>406.7</div>
<div class='grn' style='left:650.9000000000001px;top:509.6px;width:54px;height:15.6px;line-height:15.6px'>1.2</div>
<div class='unit' style='left:707.1px;top:492.6px;width:13px;height:15.1px;line-height:15.1px'>V</div>
<div class='unit' style='left:707.1px;top:509.8px;width:13px;height:15.2px;line-height:15.2px'>A</div>
<div class='lbl' style='left:819px;top:492.6px;width:29.6px;height:15.1px;font-size:12px;line-height:15.1px'>压力:</div>
<div class='lbl' style='left:819px;top:509.8px;width:29.6px;height:15.2px;font-size:12px;line-height:15.2px'>温度:</div>
<div class='grn' style='left:862.3px;top:492.6px;width:53.3px;height:15.3px;line-height:15.3px'>-7.3</div>
<div class='grn' style='left:862.3px;top:509.6px;width:53.3px;height:15.6px;line-height:15.6px'>13.7</div>
<div class='unit' style='left:917.8px;top:492.6px;width:18.5px;height:15.1px;line-height:15.1px'>MPa</div>
<div class='unit' style='left:917.8px;top:509.8px;width:13.5px;height:15.2px;line-height:15.2px'>℃</div>
<div class='lbl' style='left:942.2px;top:492.6px;width:31.8px;height:15.1px;font-size:12px;line-height:15.1px'>电压:</div>
<div class='lbl' style='left:942.2px;top:509.8px;width:31.8px;height:15.2px;font-size:12px;line-height:15.2px'>电流:</div>
<div class='grn' style='left:984.8px;top:492.6px;width:54px;height:15.3px;line-height:15.3px'>406.7</div>
<div class='grn' style='left:984.8px;top:509.6px;width:54px;height:15.6px;line-height:15.6px'>1.4</div>
<div class='unit' style='left:1041px;top:492.6px;width:13px;height:15.1px;line-height:15.1px'>V</div>
<div class='unit' style='left:1041px;top:509.8px;width:13px;height:15.2px;line-height:15.2px'>A</div>
<div class='pb' style='left:395.4px;top:541px;width:67.80000000000001px;height:29.5px;line-height:27px;'>无人值守</div>
<div class='pb' style='left:486.6px;top:541px;width:66.79999999999995px;height:29.5px;line-height:27px;'>单机控制</div>
<div class='pb' style='left:577px;top:541px;width:69px;height:29.5px;line-height:27px;background:linear-gradient(#70ffff,#18e4ee);'>集中控制</div>
<div class='pb' style='left:663px;top:541px;width:28.399999999999977px;height:29.5px;line-height:27px;font-size:11px'>启动</div>
<div class='pb' style='left:702.7px;top:541px;width:28.799999999999955px;height:29.5px;line-height:27px;font-size:11px'>停止</div>
<div class='pb' style='left:744px;top:541px;width:28px;height:29.5px;line-height:27px;font-size:11px'>消音</div>
<div class='pb' style='left:784.9px;top:541px;width:28.800000000000068px;height:29.5px;line-height:27px;font-size:11px'>复位</div>
<div class='pb' style='left:838px;top:541px;width:68.20000000000005px;height:29.5px;line-height:27px;background:linear-gradient(#ff5050,#ee0000 50%,#d80000);color:#5a0000;font-weight:bold;font-size:16px;border-color:#801010'>急停</div>
<div class='a' style='left:0;top:580.5px;width:1157px;height:36px;background:#fff'></div>
<div class='a' style='left:0;top:580.5px;width:1157px;height:12px;background:#ece8dc;border-bottom:1px solid #d0ccc0'></div>
<div class='a' style='left:0;top:592.5px;width:25px;height:24px;background:#ece8dc'></div>
<div class='a' style='left:0;top:592.5px;width:25px;height:12px;background:#f8b464'></div>
<div class='a' style='left:0;top:604.5px;width:1155px;height:1px;background:#e0e0e0'></div>
<div class='a' style='left:1155px;top:580.5px;width:2px;height:36px;background:#8a8a8a'></div>
<div class='a' style='left:25px;top:580.5px;width:1px;height:36px;background:#d4d0c4'></div>
<div class='a' style='left:119.4px;top:580.5px;width:1px;height:36px;background:#d4d0c4'></div>
<div class='a' style='left:214px;top:580.5px;width:1px;height:36px;background:#d4d0c4'></div>
<div class='a' style='left:280.2px;top:580.5px;width:1px;height:36px;background:#d4d0c4'></div>
<div class='a' style='left:365.7px;top:580.5px;width:1px;height:36px;background:#d4d0c4'></div>
<div class='a' style='left:493.3px;top:580.5px;width:1px;height:36px;background:#d4d0c4'></div>
<div class='a' style='left:684.2px;top:580.5px;width:1px;height:36px;background:#d4d0c4'></div>
<div class='a' style='left:1068px;top:580.5px;width:1px;height:36px;background:#d4d0c4'></div>
<div class='a' style='left:1155px;top:580.5px;width:1px;height:36px;background:#d4d0c4'></div>
<div class='a' style='left:1068px;top:592.5px;width:87px;height:24px;background:#fff'></div>
<div class='t' style='left:28px;top:581.5px;font-size:10px;font-weight:bold;color:#111'>日期</div>
<div class='t' style='left:123px;top:581.5px;font-size:10px;font-weight:bold;color:#111'>时间</div>
<div class='t' style='left:217.7px;top:581.5px;font-size:10px;font-weight:bold;color:#111'>编号</div>
<div class='t' style='left:282.5px;top:581.5px;font-size:10px;font-weight:bold;color:#111'>类别</div>
<div class='t' style='left:368px;top:581.5px;font-size:10px;font-weight:bold;color:#111'>类型</div>
<div class='t' style='left:496px;top:581.5px;font-size:10px;font-weight:bold;color:#111'>错误点</div>
<div class='t' style='left:687px;top:581.5px;font-size:10px;font-weight:bold;color:#111'>消息文本</div>
<div class='t' style='left:5px;top:593px;font-size:11px;font-weight:bold;color:#111;font-family:"Liberation Serif",serif'>1</div>
<div class='t' style='left:27px;top:594px;font-size:10px;font-weight:bold;color:#2e862e'><span style='letter-spacing:0.8px'>01/04/17</span></div>
<div class='t' style='left:122px;top:594px;font-size:10px;font-weight:bold;color:#2e862e'><span style='letter-spacing:0.8px'>11:39:11</span></div>
<div class='t' style='left:216.7px;top:594px;font-size:10px;font-weight:bold;color:#2e862e'><span style='letter-spacing:0.8px'>207</span></div>
<div class='t' style='left:281.5px;top:594px;font-size:10px;font-weight:bold;color:#2e862e'>错误</div>
<div class='t' style='left:367px;top:594px;font-size:10px;font-weight:bold;color:#2e862e'>故障</div>
<div class='t' style='left:495px;top:594px;font-size:10px;font-weight:bold;color:#2e862e'><span style='letter-spacing:0.8px'>450</span>溜破</div>
<div class='t' style='left:686px;top:594px;font-size:10px;font-weight:bold;color:#2e862e'><span style='letter-spacing:0.8px'>450</span>中段溜破放矿机温度故障</div>
<div class='t' style='left:5px;top:605px;font-size:11px;font-weight:bold;color:#111;font-family:"Liberation Serif",serif'>2</div>
<div class='t' style='left:27px;top:606px;font-size:10px;font-weight:bold;color:#2e862e'><span style='letter-spacing:0.8px'>01/04/17</span></div>
<div class='t' style='left:122px;top:606px;font-size:10px;font-weight:bold;color:#2e862e'><span style='letter-spacing:0.8px'>11:39:11</span></div>
<div class='t' style='left:216.7px;top:606px;font-size:10px;font-weight:bold;color:#2e862e'><span style='letter-spacing:0.8px'>203</span></div>
<div class='t' style='left:281.5px;top:606px;font-size:10px;font-weight:bold;color:#2e862e'>错误</div>
<div class='t' style='left:367px;top:606px;font-size:10px;font-weight:bold;color:#2e862e'>故障</div>
<div class='t' style='left:495px;top:606px;font-size:10px;font-weight:bold;color:#2e862e'><span style='letter-spacing:0.8px'>450</span>溜破</div>
<div class='t' style='left:686px;top:606px;font-size:10px;font-weight:bold;color:#2e862e'><span style='letter-spacing:0.8px'>450</span>中段溜破皮带机温度故障</div>
<div class='a' style='left:2px;top:621.5px;width:107px;height:26.5px;border-top:2px solid #6aaaaa;border-left:2px solid #6aaaaa;border-bottom:2px solid #a02828;border-right:2px solid #a02828'></div>
<div class='a' style='left:110px;top:621.5px;width:107px;height:26.5px;border-top:2px solid #6aaaaa;border-left:2px solid #6aaaaa;border-bottom:2px solid #a02828;border-right:2px solid #a02828'></div>
<div class='a' style='left:223px;top:621.5px;width:515px;height:26.5px;border:2px solid #7cb8b8'></div>
<div class='t' style='left:7px;top:622.5px;font-size:24px;letter-spacing:0.3px;color:#bcff50'>退出系统</div>
<div class='t' style='left:115.5px;top:622.5px;font-size:24px;letter-spacing:0.3px;color:#bcff50'>切换用户</div>
<div class='t' style='left:239px;top:623.5px;font-size:22px;letter-spacing:15.4px;color:#bcff50'>北京矿冶研究总院</div>
<div class='t' style='left:639.5px;top:623.5px;font-size:22px;letter-spacing:2px;color:#bcff50'>设计制作</div>
<div class='t' style='left:772.5px;top:623.5px;font-size:22px;letter-spacing:1.5px;color:#bcff50'>当前用户：admin</div>
<div class='a' style='left:1022.2px;top:620.8px;width:42.7px;height:27px;background:#74c2f0;border:1px solid #a8dcf8'></div>
<svg style='left:1022px;top:620.8px' width='43' height='27'><ellipse cx='5' cy='12.5' rx='2.5' ry='5.5' fill='#f0f0f0' stroke='#808080' stroke-width='0.5'/><path d='M5,7 L12,2.5 Q15,12.5 12,22.5 L5,18 Z' fill='#d8a020' stroke='#806010' stroke-width='0.6'/><path d='M18,8 Q20,12.5 18,17 M21,6 Q24,12.5 21,19 M24,4 Q28,12.5 24,21' stroke='#3a70d0' stroke-width='1' fill='none' opacity='0.8'/><path d='M24.5,15 L29,21.5 L38.5,11' stroke='#30b040' stroke-width='3' fill='none'/></svg>
<div class='a' style='left:1067.3px;top:621.4px;width:40.8px;height:25.2px;background:#1c88d6;border:1.5px solid #b89090;box-shadow:inset 0 0 0 1.5px #1c88d6, inset 0 0 0 2.5px #9cd0f4'></div>
<svg style='left:1075.3px;top:626px' width='26' height='18'><path d='M4,2.5 Q8,1 12,2 L11,8.3 Q7,7.5 3,8.8 Z M13.5,2.2 Q18,3.5 23,2.2 L22,8.5 Q17,9.8 12.5,8.5 Z M2.8,10.2 Q7,9 10.8,9.8 L9.8,16 Q5.5,15 1.8,16.5 Z M12.3,10 Q17,11.3 21.8,10 L20.8,16.3 Q16,17.5 11.3,16.2 Z' fill='#e8fbff'/></svg>
<div class='a' style='left:1110px;top:621.4px;width:40.8px;height:25.2px;background:#1c88d6;border:1.5px solid #b89090;box-shadow:inset 0 0 0 1.5px #1c88d6, inset 0 0 0 2.5px #9cd0f4'></div>
<svg style='left:1118px;top:626px' width='26' height='18'><path d='M4,2.5 Q8,1 12,2 L11,8.3 Q7,7.5 3,8.8 Z M13.5,2.2 Q18,3.5 23,2.2 L22,8.5 Q17,9.8 12.5,8.5 Z M2.8,10.2 Q7,9 10.8,9.8 L9.8,16 Q5.5,15 1.8,16.5 Z M12.3,10 Q17,11.3 21.8,10 L20.8,16.3 Q16,17.5 11.3,16.2 Z' fill='#e8fbff'/></svg>
</body></html>
